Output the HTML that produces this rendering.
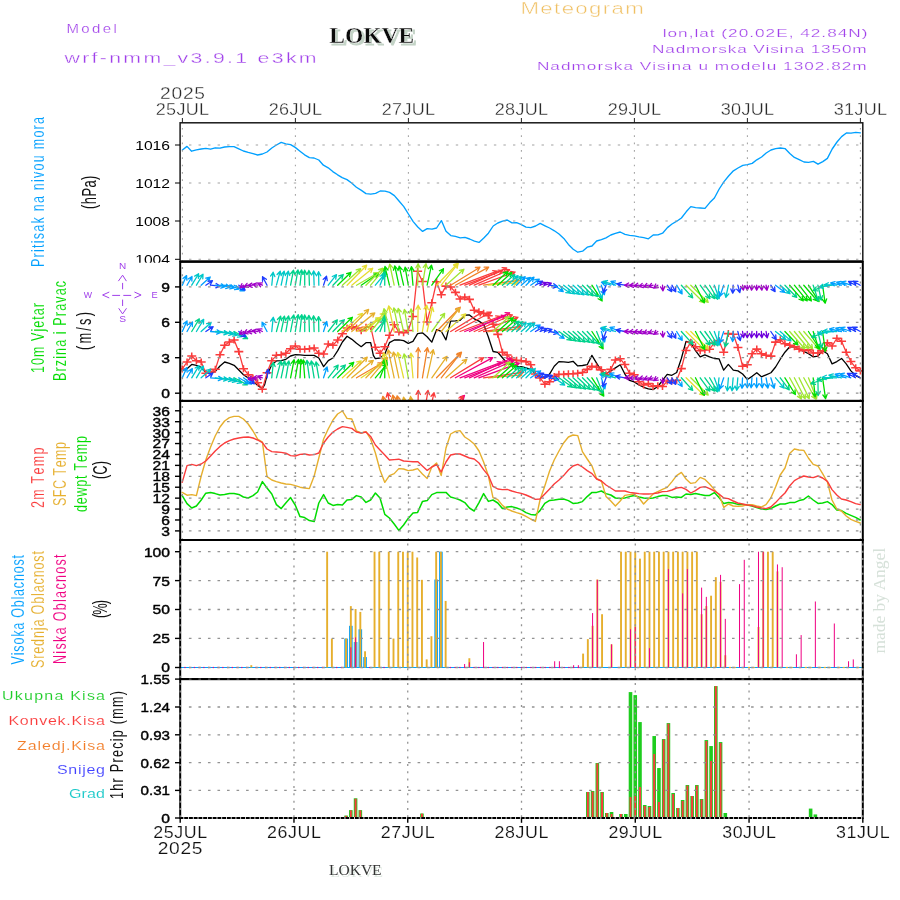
<!DOCTYPE html>
<html><head><meta charset="utf-8"><title>Meteogram LOKVE</title>
<style>html,body{margin:0;padding:0;background:#fff}svg{display:block;will-change:transform;filter:opacity(0.999)}text{white-space:pre}</style></head>
<body><svg width="900" height="900" viewBox="0 0 900 900">
<rect width="900" height="900" fill="#fff"/>
<text transform="translate(66.5,33.3) scale(1.25,1)" x="0 11.91 20.49 29.07 37.65" font-family="Liberation Sans" font-size="12" font-weight="normal" fill="#a040ea" stroke="#fff" stroke-width="0.2" >Model</text>
<text transform="translate(64.5,62.6) scale(1.42,1)" x="0 12.45 19.07 24.86 31.47 41.43 55.55 69.66 79.63 88.75 98.71 104.5 114.46 120.25 130.21 136 145.96 155.92 165.04" font-family="Liberation Sans" font-size="15" font-weight="normal" fill="#a040ea" stroke="#fff" stroke-width="0.3" >wrf-nmm_v3.9.1 e3km</text>
<text x="331.6" y="44.9" font-family="Liberation Serif" font-size="23" font-weight="bold" fill="#c3d3c6" stroke="#c3d3c6" stroke-width="0.8" textLength="85" lengthAdjust="spacingAndGlyphs">LOKVE</text>
<text x="329.2" y="42.5" font-family="Liberation Serif" font-size="23" font-weight="bold" fill="#0a0a0a" stroke="#fff" stroke-width="0.3" textLength="85" lengthAdjust="spacingAndGlyphs">LOKVE</text>
<text transform="translate(520.5,14.2) scale(1.32,1)" x="0 15.05 25.45 31.17 41.57 51.97 62.37 69.02 79.41" font-family="Liberation Sans" font-size="16.8" font-weight="normal" fill="#f0c063" stroke="#fff" stroke-width="0.42" >Meteogram</text>
<text transform="translate(662.7,37.2) scale(1.5,1)" x="0 3.21 10.26 17.31 21.16 24.37 31.42 35.27 39.12 43.61 50.66 57.71 61.56 68.61 75.66 83.99 87.84 91.69 98.74 105.79 109.64 116.69 123.74 132.7" font-family="Liberation Sans" font-size="11.5" font-weight="normal" fill="#a040ea" stroke="#fff" stroke-width="0.22" >lon,lat (20.02E, 42.84N)</text>
<text transform="translate(652,53.3) scale(1.5,1)" x="0 8.85 15.79 22.73 32.86 39.8 44.18 50.47 56.77 63.71 67.45 75.67 78.77 85.06 88.16 95.11 102.05 105.79 112.73 119.67 126.61 133.55" font-family="Liberation Sans" font-size="11.5" font-weight="normal" fill="#a040ea" stroke="#fff" stroke-width="0.22" >Nadmorska Visina 1350m</text>
<text transform="translate(536.9,69.5) scale(1.5,1)" x="0 8.96 16.02 23.07 33.31 40.36 44.85 51.26 57.66 64.72 68.57 76.9 80.11 86.52 89.73 96.78 103.84 107.69 114.74 118.6 128.83 135.89 142.94 149.99 153.21 160.26 164.11 171.17 178.22 185.27 192.33 196.18 203.23 210.29" font-family="Liberation Sans" font-size="11.5" font-weight="normal" fill="#a040ea" stroke="#fff" stroke-width="0.22" >Nadmorska Visina u modelu 1302.82m</text>
<text transform="translate(160,98.7) scale(1.2,1)" x="0 9.53 19.07 28.6" font-family="Liberation Sans" font-size="16" font-weight="normal" fill="#2a2a2a" stroke="#fff" stroke-width="0.3" >2025</text>
<text transform="translate(155.7,115) scale(1.1,1)" x="0 9.41 18.81 27.3 39.42" font-family="Liberation Sans" font-size="16.4" font-weight="normal" fill="#2a2a2a" stroke="#fff" stroke-width="0.3" >25JUL</text>
<line x1="182.4" y1="118" x2="182.4" y2="123" stroke="#222" stroke-width="1"/>
<text transform="translate(268.7,115) scale(1.1,1)" x="0 9.41 18.81 27.3 39.42" font-family="Liberation Sans" font-size="16.4" font-weight="normal" fill="#2a2a2a" stroke="#fff" stroke-width="0.3" >26JUL</text>
<line x1="295.4" y1="118" x2="295.4" y2="123" stroke="#222" stroke-width="1"/>
<text transform="translate(381.7,115) scale(1.1,1)" x="0 9.41 18.81 27.3 39.42" font-family="Liberation Sans" font-size="16.4" font-weight="normal" fill="#2a2a2a" stroke="#fff" stroke-width="0.3" >27JUL</text>
<line x1="408.4" y1="118" x2="408.4" y2="123" stroke="#222" stroke-width="1"/>
<text transform="translate(494.7,115) scale(1.1,1)" x="0 9.41 18.81 27.3 39.42" font-family="Liberation Sans" font-size="16.4" font-weight="normal" fill="#2a2a2a" stroke="#fff" stroke-width="0.3" >28JUL</text>
<line x1="521.4" y1="118" x2="521.4" y2="123" stroke="#222" stroke-width="1"/>
<text transform="translate(607.7,115) scale(1.1,1)" x="0 9.41 18.81 27.3 39.42" font-family="Liberation Sans" font-size="16.4" font-weight="normal" fill="#2a2a2a" stroke="#fff" stroke-width="0.3" >29JUL</text>
<line x1="634.4" y1="118" x2="634.4" y2="123" stroke="#222" stroke-width="1"/>
<text transform="translate(720.7,115) scale(1.1,1)" x="0 9.41 18.81 27.3 39.42" font-family="Liberation Sans" font-size="16.4" font-weight="normal" fill="#2a2a2a" stroke="#fff" stroke-width="0.3" >30JUL</text>
<line x1="747.4" y1="118" x2="747.4" y2="123" stroke="#222" stroke-width="1"/>
<text transform="translate(833.7,115) scale(1.1,1)" x="0 9.41 18.81 27.3 39.42" font-family="Liberation Sans" font-size="16.4" font-weight="normal" fill="#2a2a2a" stroke="#fff" stroke-width="0.3" >31JUL</text>
<line x1="860.4" y1="118" x2="860.4" y2="123" stroke="#222" stroke-width="1"/>
<text transform="translate(153.3,837.7) scale(1.1,1)" x="0 9.53 19.06 27.68 39.9" font-family="Liberation Sans" font-size="16.2" font-weight="normal" fill="#111" stroke="#fff" stroke-width="0.15" >25JUL</text>
<line x1="180.2" y1="818" x2="180.2" y2="822.8" stroke="#000" stroke-width="1.4"/>
<text transform="translate(267.07,837.7) scale(1.1,1)" x="0 9.53 19.06 27.68 39.9" font-family="Liberation Sans" font-size="16.2" font-weight="normal" fill="#111" stroke="#fff" stroke-width="0.15" >26JUL</text>
<line x1="293.97" y1="818" x2="293.97" y2="822.8" stroke="#000" stroke-width="1.4"/>
<text transform="translate(380.84,837.7) scale(1.1,1)" x="0 9.53 19.06 27.68 39.9" font-family="Liberation Sans" font-size="16.2" font-weight="normal" fill="#111" stroke="#fff" stroke-width="0.15" >27JUL</text>
<line x1="407.74" y1="818" x2="407.74" y2="822.8" stroke="#000" stroke-width="1.4"/>
<text transform="translate(494.61,837.7) scale(1.1,1)" x="0 9.53 19.06 27.68 39.9" font-family="Liberation Sans" font-size="16.2" font-weight="normal" fill="#111" stroke="#fff" stroke-width="0.15" >28JUL</text>
<line x1="521.51" y1="818" x2="521.51" y2="822.8" stroke="#000" stroke-width="1.4"/>
<text transform="translate(608.38,837.7) scale(1.1,1)" x="0 9.53 19.06 27.68 39.9" font-family="Liberation Sans" font-size="16.2" font-weight="normal" fill="#111" stroke="#fff" stroke-width="0.15" >29JUL</text>
<line x1="635.28" y1="818" x2="635.28" y2="822.8" stroke="#000" stroke-width="1.4"/>
<text transform="translate(722.15,837.7) scale(1.1,1)" x="0 9.53 19.06 27.68 39.9" font-family="Liberation Sans" font-size="16.2" font-weight="normal" fill="#111" stroke="#fff" stroke-width="0.15" >30JUL</text>
<line x1="749.05" y1="818" x2="749.05" y2="822.8" stroke="#000" stroke-width="1.4"/>
<text transform="translate(835.92,837.7) scale(1.1,1)" x="0 9.53 19.06 27.68 39.9" font-family="Liberation Sans" font-size="16.2" font-weight="normal" fill="#111" stroke="#fff" stroke-width="0.15" >31JUL</text>
<line x1="862.82" y1="818" x2="862.82" y2="822.8" stroke="#000" stroke-width="1.4"/>
<text transform="translate(157.7,853.7) scale(1.2,1)" x="0 9.45 18.9 28.35" font-family="Liberation Sans" font-size="16" font-weight="normal" fill="#111" stroke="#fff" stroke-width="0.15" >2025</text>
<text x="330.5" y="876.5" font-family="Liberation Serif" font-size="15.5" fill="#dfe8e1" textLength="52.6" lengthAdjust="spacingAndGlyphs">LOKVE</text>
<text x="329" y="875.3" font-family="Liberation Serif" font-size="15.5" fill="#333" textLength="52.6" lengthAdjust="spacingAndGlyphs">LOKVE</text>
<text transform="translate(884.8,653.6) rotate(-90)" font-family="Liberation Serif" font-size="16" fill="#d6e1d9" textLength="105.7" lengthAdjust="spacingAndGlyphs">made by Angel</text>
<text transform="translate(44.2,267) rotate(-90) scale(0.66,1)" x="0 14.54 22.74 28.84 35.99 42.08 53.45 65.89 77.26 84.41 96.85 109.29 116.44 128.88 134.97 146.34 158.78 171.22 178.37 196.07 208.51 216.71" font-family="Liberation Sans" font-size="19" fill="rgb(0,160,255)" stroke="#fff" stroke-width="0.12">Pritisak na nivou mora</text>
<text transform="translate(96,209) rotate(-90) scale(0.66,1)" x="0 7.22 18.8 32.54 44.11" font-family="Liberation Sans" font-size="19.5" fill="#111">(hPa)</text>
<text transform="translate(44.2,373) rotate(-90) scale(0.66,1)" x="0 12.14 24.29 41.69 48.55 62.79 68.59 80.74 87.59 99.73" font-family="Liberation Sans" font-size="19" fill="rgb(0,220,0)" stroke="#fff" stroke-width="0.12">10m Vjetar</text>
<text transform="translate(65.6,381) rotate(-90) scale(0.66,1)" x="0 14.37 22.39 33.59 39.51 51.77 64.03 71.01 76.93 83.9 98.27 106.29 118.56 129.75 142.02" font-family="Liberation Sans" font-size="19" fill="rgb(0,220,0)" stroke="#fff" stroke-width="0.12">Brzina i Pravac</text>
<text transform="translate(91,350) rotate(-90) scale(0.66,1)" x="0 9.79 29.33 38.04 51.08" font-family="Liberation Sans" font-size="19.5" fill="#111">(m/s)</text>
<text transform="translate(44.4,508) rotate(-90) scale(0.66,1)" x="0 12.45 30.15 37.31 50.8 63.24 80.95" font-family="Liberation Sans" font-size="19" fill="rgb(250,60,60)" stroke="#fff" stroke-width="0.12">2m Temp</text>
<text transform="translate(65.6,506) rotate(-90) scale(0.66,1)" x="0 13.4 25.74 40.2 46.21 58.54 69.84 86.4" font-family="Liberation Sans" font-size="19" fill="rgb(230,175,45)" stroke="#fff" stroke-width="0.12">SFC Temp</text>
<text transform="translate(86.6,512) rotate(-90) scale(0.66,1)" x="0 11.75 23.49 38.39 50.14 56.59 63.05 75.83 87.58 104.58" font-family="Liberation Sans" font-size="19" fill="rgb(0,220,0)" stroke="#fff" stroke-width="0.12">dewpt Temp</text>
<text transform="translate(107,479) rotate(-90) scale(0.66,1)" x="0 6.6 20.78" font-family="Liberation Sans" font-size="19.5" fill="#111">(C)</text>
<text transform="translate(23.6,664.4) rotate(-90) scale(0.66,1)" x="0 13.87 19.28 29.98 41.74 52.43 64.19 70.66 86.63 98.4 103.81 115.57 126.26 138.02 149.79 160.48" font-family="Liberation Sans" font-size="19" fill="rgb(0,160,255)" stroke="#fff" stroke-width="0.12">Visoka Oblacnost</text>
<text transform="translate(44.4,668) rotate(-90) scale(0.66,1)" x="0 13.98 21.62 33.5 45.37 57.25 62.78 74.66 81.25 97.34 109.21 114.74 126.62 137.43 149.31 161.18 171.99" font-family="Liberation Sans" font-size="19" fill="rgb(230,175,45)" stroke="#fff" stroke-width="0.12">Srednja Oblacnost</text>
<text transform="translate(65.6,664) rotate(-90) scale(0.66,1)" x="0 15.7 21.9 33.38 44.86 57.41 64.67 81.43 93.98 100.18 112.73 124.21 136.75 149.3 160.78" font-family="Liberation Sans" font-size="19" fill="rgb(240,0,130)" stroke="#fff" stroke-width="0.12">Niska Oblacnost</text>
<text transform="translate(107,618) rotate(-90) scale(0.66,1)" x="0 4.97 20.78" font-family="Liberation Sans" font-size="19.5" fill="#111">(%)</text>
<text transform="translate(123.4,799) rotate(-90) scale(0.66,1)" x="0 12.53 25.06 33.34 40.58 55.22 63.51 76.03 87.49 93.68 106.2 113.44 121.73 139.52 157.31" font-family="Liberation Sans" font-size="19" fill="#111">1hr Precip (mm)</text>
<text transform="translate(2,700.4) scale(1.2,1)" x="0 10.65 18.34 26.78 35.22 43.66 52.1 56.83 66.75 70.74 78.44" font-family="Liberation Sans" font-size="13.3" font-weight="normal" fill="rgb(30,205,40)" stroke="#fff" stroke-width="0.1" >Ukupna Kisa</text>
<text transform="translate(8.4,725) scale(1.2,1)" x="0 9.53 17.58 25.64 32.94 41 48.3 52.66 62.18 65.8 73.1" font-family="Liberation Sans" font-size="13.3" font-weight="normal" fill="rgb(250,60,60)" stroke="#fff" stroke-width="0.1" >Konvek.Kisa</text>
<text transform="translate(17,749.6) scale(1.2,1)" x="0 8.88 17.03 20.74 28.89 37.04 40.75 45.2 54.82 58.53 65.94" font-family="Liberation Sans" font-size="13.3" font-weight="normal" fill="rgb(242,125,40)" stroke="#fff" stroke-width="0.1" >Zaledj.Kisa</text>
<text transform="translate(57,774) scale(1.2,1)" x="0 9.48 17.48 21.04 24.6 32.6" font-family="Liberation Sans" font-size="13.3" font-weight="normal" fill="rgb(65,65,255)" stroke="#fff" stroke-width="0.1" >Snijeg</text>
<text transform="translate(69,798) scale(1.2,1)" x="0 10.49 15.06 22.6" font-family="Liberation Sans" font-size="13.3" font-weight="normal" fill="rgb(20,200,200)" stroke="#fff" stroke-width="0.1" >Grad</text>
<g stroke="#a040ea" stroke-width="1" fill="none" stroke-linecap="round">
<path d="M118.6 280.8 L122.6 275.2 L126.2 280.8 M122.6 283.3 V288.9 M122.6 300 V305.6 M118.9 308.6 L122.6 313.9 L126.3 308.6"/>
<path d="M108.9 292.2 L102.6 295 L108.9 297.8 M112.6 295.4 H119.7 M123.7 295.4 H130.8 M134.8 292.2 L141.1 295 L134.8 297.8"/>
</g>
<text x="118.9" y="269.4" font-family="Liberation Sans" font-size="9.3" fill="#a040ea" textLength="7.2" lengthAdjust="spacingAndGlyphs">N</text>
<text x="119.3" y="322.4" font-family="Liberation Sans" font-size="9.3" fill="#a040ea" textLength="6.8" lengthAdjust="spacingAndGlyphs">S</text>
<text x="83.85" y="297.8" font-family="Liberation Sans" font-size="9.3" fill="#a040ea" textLength="8.3" lengthAdjust="spacingAndGlyphs">W</text>
<text x="151.6" y="297.8" font-family="Liberation Sans" font-size="9.3" fill="#a040ea" textLength="6.2" lengthAdjust="spacingAndGlyphs">E</text>
<polyline fill="none" stroke="rgb(0,160,255)" stroke-width="1.35" stroke-linejoin="round" stroke-linecap="round" points="182.4,150 187,146.4 191.6,151.2 196.4,149.8 201.2,149 205.8,148.4 210.6,149.2 215.2,147.8 220,148.2 224.6,147 229.4,146.6 234,146.6 238.8,148.8 243.4,151 248.2,152.4 253,153.6 257.6,155 262.4,154 267,152 271.8,148 276.4,145 281.2,142.4 285.8,143.8 290.6,144.6 295.2,147.4 300,151.2 304.6,154.8 309.4,157.6 314,158 318.8,160 323.4,165.2 328.2,167.8 332.8,171.6 337.6,174.8 342.2,177.6 347,179.6 351.6,183 356.4,187.2 361.4,190.4 366,193.6 370.8,194.2 375.6,193.4 380.2,191 385,191.2 389.6,192.4 394.4,195.6 399,201 403.8,206.6 408.4,214 413.2,221.6 417.8,227 422.6,231.4 427.2,228.6 432,229.2 436.6,228 441.4,220.6 446,231.2 450.8,235.6 455.4,236.4 460.2,237.8 465,237.4 469.6,239 474.4,241.2 479,242.4 483.8,238 488.4,233.2 493.2,226 497.8,223 502.6,221.2 507.2,220 512,222.8 516.6,222.6 521.4,224.6 526,227.2 530.8,227.6 535.6,226 540.2,223.4 545,225.8 549.6,228 554.4,230.8 559,234 563.8,238.4 568.4,244.4 573.2,249.2 577.8,252.2 582.6,251.2 587.2,247.2 592,246 596.6,241 601.4,239.6 606,237.8 610.8,235 615.4,233.4 620.2,232 625,234.4 629.6,235.4 634.4,235.8 639,236.8 643.8,237.6 648.4,238.8 653.2,235 658,234.8 662.6,233.2 667.4,227.6 672,224 676.8,221.2 681.4,218 686.2,211.8 690.8,206.6 695.6,207.6 700.4,208 705,208.4 709.8,202.6 714.4,198 719.2,189 724,181.6 728.6,176 733.4,170.8 738,168 742.8,165.4 747.4,164.6 752.2,163.4 756.8,159.8 761.6,157 766.2,153 771,150 775.6,148.6 780.4,148 785,148.6 789.8,153.4 794.4,157.4 799.2,159.6 804,162 808.6,162.4 813.4,161.4 818,164.2 822.8,161.6 827.4,158.4 832.2,149 837,142 841.6,136.6 846.4,133 851,133.2 855.8,132.4 860.4,132.8" />
<line x1="189" y1="145" x2="861.8" y2="145" stroke="#a2a2a2" stroke-width="1.05" stroke-dasharray="2.4 7.128"/>
<line x1="189" y1="183" x2="861.8" y2="183" stroke="#a2a2a2" stroke-width="1.05" stroke-dasharray="2.4 7.128"/>
<line x1="189" y1="221" x2="861.8" y2="221" stroke="#a2a2a2" stroke-width="1.05" stroke-dasharray="2.4 7.128"/>
<line x1="189" y1="259.3" x2="861.8" y2="259.3" stroke="#a2a2a2" stroke-width="1.05" stroke-dasharray="2.4 7.128"/>
<line x1="182.4" y1="127.9" x2="182.4" y2="261" stroke="#a2a2a2" stroke-width="1.05" stroke-dasharray="1.7 5.65"/>
<line x1="295.4" y1="127.9" x2="295.4" y2="261" stroke="#a2a2a2" stroke-width="1.05" stroke-dasharray="1.7 5.65"/>
<line x1="408.4" y1="127.9" x2="408.4" y2="261" stroke="#a2a2a2" stroke-width="1.05" stroke-dasharray="1.7 5.65"/>
<line x1="521.4" y1="127.9" x2="521.4" y2="261" stroke="#a2a2a2" stroke-width="1.05" stroke-dasharray="1.7 5.65"/>
<line x1="634.4" y1="127.9" x2="634.4" y2="261" stroke="#a2a2a2" stroke-width="1.05" stroke-dasharray="1.7 5.65"/>
<line x1="747.4" y1="127.9" x2="747.4" y2="261" stroke="#a2a2a2" stroke-width="1.05" stroke-dasharray="1.7 5.65"/>
<line x1="860.4" y1="127.9" x2="860.4" y2="261" stroke="#a2a2a2" stroke-width="1.05" stroke-dasharray="1.7 5.65"/>
<clipPath id="c2"><rect x="180.2" y="262.9" width="682.6" height="137"/></clipPath>
<g clip-path="url(#c2)">
<polyline fill="none" stroke="#000" stroke-width="1.3" stroke-linejoin="round" stroke-linecap="round" points="182.27,370.67 187.07,368.67 191.73,364.4 196.4,365.33 201.2,367.33 205.87,372.67 210.53,373.33 215.33,371.33 220,366 224.67,362 229.33,363.33 234.13,365.33 238.8,370 243.47,374.67 248.27,378 252.93,381.33 257.6,385.33 262.27,388.67 264.67,384.67 267.07,375.33 271.73,364.67 276.4,360.93 281.2,360.67 285.87,359.33 290.53,356 295.33,354.67 300,354.93 304.67,355.33 309.47,355.33 314.13,355.33 318.8,358 323.6,366.67 328.27,360.67 332.93,358 337.73,350.67 342.4,342 347.07,336.27 351.87,339.33 356.53,343.33 361.2,346.67 366,342.67 370.67,342.67 373.33,355.33 375.33,358.67 380.13,358 384.8,354 389.47,342.67 394.27,340 398.93,339.82 403.6,340.6 408.27,343.4 412.94,341.38 417.61,333.6 422.44,332.82 427.11,336.71 431.77,342.16 436.6,329.7 441.27,331.26 445.94,339.82 450.61,321.14 455.43,320.83 460.1,320.37 464.77,315.23 469.44,314.92 474.26,318.81 478.93,321.14 483.6,324.26 488.27,336.71 493.1,351.49 497.77,352.27 502.44,357.72 507.11,363.17 511.89,365.5 516.56,366.59 521.23,366.59 526.05,367.84 530.72,369.39 535.39,374.06 540.06,377.18 544.89,377.95 549.56,374.06 554.23,366.28 558.89,361.61 563.72,361.92 568.39,362.39 573.06,361.3 577.73,365.97 582.55,365.5 587.22,364.72 591.89,355.39 596.56,363.17 601.39,370.95 606.05,374.06 610.72,370.95 615.39,367.84 620.18,364.72 624.85,374.06 629.52,380.29 634.19,381.84 639.01,384.96 643.68,387.29 648.35,388.85 653.02,389.63 657.84,386.51 662.51,380.29 667.18,374.37 671.85,375.31 676.68,372.51 681.35,358.5 686.02,341.38 690.68,342.93 695.51,350.72 700.18,356.94 704.85,354.92 709.52,356.94 714.34,358.5 719.01,358.81 723.68,370.17 728.35,364.41 733.29,370.11 737.96,370.89 742.62,374 747.29,379.44 752.11,376.33 756.78,372.76 761.44,376.8 766.11,374.78 770.93,372.76 775.6,367 780.27,359.22 784.93,352.22 789.76,346.78 794.42,346.78 799.09,349.11 803.76,351.44 808.58,353.78 813.24,356.89 817.91,356.11 822.73,350.67 827.4,353.78 832.07,363.89 836.89,361.56 841.56,358.44 846.22,363.89 850.89,370.89 855.71,375.56 860.38,377.89" />
<polyline fill="none" stroke="rgb(250,60,60)" stroke-width="1.3" stroke-linejoin="round" stroke-linecap="round" points="182.27,368.93 187.07,362 191.73,356 196.4,360.67 201.2,362 205.87,373.33 210.53,372 215.33,369.33 220,354.67 224.67,345.33 229.33,342 234.13,340 238.8,351.6 243.47,368.67 248.27,374.67 252.93,378 257.6,382.67 262.27,389.33 267.07,372.67 271.73,360.67 276.4,355.33 281.2,354.67 285.87,353.33 290.53,348.67 295.33,346 300,349.33 304.67,349.33 309.47,348.67 314.13,348 318.8,353.33 323.6,354 328.27,344 332.93,345.33 337.73,340 342.4,333.73 347.07,328 351.87,326.67 356.53,328 361.2,330.67 366,327.33 370.67,326.67 375.33,347.33 380.13,353.33 384.8,346.67 389.47,335.33 394.27,324.67 398.93,332.04 403.6,332.82 408.27,330.48 412.94,316.47 417.61,271.34 422.44,281.46 427.11,321.92 431.77,302.78 436.6,281.77 441.27,294.68 445.94,286.12 450.61,286.9 455.43,292.35 460.1,299.04 464.77,297.02 469.44,299.35 474.26,310.25 478.93,311.81 483.6,313.36 488.27,315.7 493.1,324.26 497.77,334.37 502.44,352.27 507.11,355.07 511.89,359.28 516.56,360.37 521.23,360.83 526.05,361.61 530.72,364.72 535.39,374.06 540.06,377.95 544.89,384.18 549.56,381.84 554.23,376.4 558.89,374.37 563.72,374.37 568.39,373.75 573.06,373.75 577.73,373.28 582.55,372.51 587.22,369.39 591.89,366.28 596.56,367.06 601.39,369.86 606.05,374.84 610.72,369.39 615.39,360.05 620.18,358.81 624.85,364.41 629.52,373.28 634.19,374.84 639.01,381.84 643.68,384.96 648.35,383.4 653.02,386.51 657.84,385.74 662.51,386.51 667.18,381.07 671.85,381.07 676.68,380.29 681.35,368.61 686.02,350.4 690.68,342.16 695.51,346.82 700.18,350.72 704.85,349.94 709.52,349.16 714.34,342.93 719.01,340.6 723.68,352.27 728.35,333.6 733.29,334.33 737.96,347.56 742.62,366.22 747.29,364.67 752.11,353.78 756.78,349.11 761.44,353.78 766.11,355.33 770.93,356.11 775.6,342.11 780.27,339.78 784.93,343.67 789.76,345.22 794.42,346.78 799.09,349.11 803.76,350.67 808.58,349.89 813.24,353 817.91,353 822.73,350.67 827.4,342.89 832.07,346 836.89,338.22 841.56,341.33 846.22,352.22 850.89,361.56 855.71,367.78 860.38,370.89" />
<path d="M177.77 368.93 h9 M182.27 365.43 v7 M182.57 362 h9 M187.07 358.5 v7 M187.23 356 h9 M191.73 352.5 v7 M191.9 360.67 h9 M196.4 357.17 v7 M196.7 362 h9 M201.2 358.5 v7 M201.37 373.33 h9 M205.87 369.83 v7 M206.03 372 h9 M210.53 368.5 v7 M210.83 369.33 h9 M215.33 365.83 v7 M215.5 354.67 h9 M220 351.17 v7 M220.17 345.33 h9 M224.67 341.83 v7 M224.83 342 h9 M229.33 338.5 v7 M229.63 340 h9 M234.13 336.5 v7 M234.3 351.6 h9 M238.8 348.1 v7 M238.97 368.67 h9 M243.47 365.17 v7 M243.77 374.67 h9 M248.27 371.17 v7 M248.43 378 h9 M252.93 374.5 v7 M253.1 382.67 h9 M257.6 379.17 v7 M257.77 389.33 h9 M262.27 385.83 v7 M262.57 372.67 h9 M267.07 369.17 v7 M267.23 360.67 h9 M271.73 357.17 v7 M271.9 355.33 h9 M276.4 351.83 v7 M276.7 354.67 h9 M281.2 351.17 v7 M281.37 353.33 h9 M285.87 349.83 v7 M286.03 348.67 h9 M290.53 345.17 v7 M290.83 346 h9 M295.33 342.5 v7 M295.5 349.33 h9 M300 345.83 v7 M300.17 349.33 h9 M304.67 345.83 v7 M304.97 348.67 h9 M309.47 345.17 v7 M309.63 348 h9 M314.13 344.5 v7 M314.3 353.33 h9 M318.8 349.83 v7 M319.1 354 h9 M323.6 350.5 v7 M323.77 344 h9 M328.27 340.5 v7 M328.43 345.33 h9 M332.93 341.83 v7 M333.23 340 h9 M337.73 336.5 v7 M337.9 333.73 h9 M342.4 330.23 v7 M342.57 328 h9 M347.07 324.5 v7 M347.37 326.67 h9 M351.87 323.17 v7 M352.03 328 h9 M356.53 324.5 v7 M356.7 330.67 h9 M361.2 327.17 v7 M361.5 327.33 h9 M366 323.83 v7 M366.17 326.67 h9 M370.67 323.17 v7 M370.83 347.33 h9 M375.33 343.83 v7 M375.63 353.33 h9 M380.13 349.83 v7 M380.3 346.67 h9 M384.8 343.17 v7 M384.97 335.33 h9 M389.47 331.83 v7 M389.77 324.67 h9 M394.27 321.17 v7 M394.43 332.04 h9 M398.93 328.54 v7 M399.1 332.82 h9 M403.6 329.32 v7 M403.77 330.48 h9 M408.27 326.98 v7 M408.44 316.47 h9 M412.94 312.97 v7 M413.11 271.34 h9 M417.61 267.84 v7 M417.94 281.46 h9 M422.44 277.96 v7 M422.61 321.92 h9 M427.11 318.42 v7 M427.27 302.78 h9 M431.77 299.28 v7 M432.1 281.77 h9 M436.6 278.27 v7 M436.77 294.68 h9 M441.27 291.18 v7 M441.44 286.12 h9 M445.94 282.62 v7 M446.11 286.9 h9 M450.61 283.4 v7 M450.93 292.35 h9 M455.43 288.85 v7 M455.6 299.04 h9 M460.1 295.54 v7 M460.27 297.02 h9 M464.77 293.52 v7 M464.94 299.35 h9 M469.44 295.85 v7 M469.76 310.25 h9 M474.26 306.75 v7 M474.43 311.81 h9 M478.93 308.31 v7 M479.1 313.36 h9 M483.6 309.86 v7 M483.77 315.7 h9 M488.27 312.2 v7 M488.6 324.26 h9 M493.1 320.76 v7 M493.27 334.37 h9 M497.77 330.87 v7 M497.94 352.27 h9 M502.44 348.77 v7 M502.61 355.07 h9 M507.11 351.57 v7 M507.39 359.28 h9 M511.89 355.78 v7 M512.06 360.37 h9 M516.56 356.87 v7 M516.73 360.83 h9 M521.23 357.33 v7 M521.55 361.61 h9 M526.05 358.11 v7 M526.22 364.72 h9 M530.72 361.22 v7 M530.89 374.06 h9 M535.39 370.56 v7 M535.56 377.95 h9 M540.06 374.45 v7 M540.39 384.18 h9 M544.89 380.68 v7 M545.06 381.84 h9 M549.56 378.34 v7 M549.73 376.4 h9 M554.23 372.9 v7 M554.39 374.37 h9 M558.89 370.87 v7 M559.22 374.37 h9 M563.72 370.87 v7 M563.89 373.75 h9 M568.39 370.25 v7 M568.56 373.75 h9 M573.06 370.25 v7 M573.23 373.28 h9 M577.73 369.78 v7 M578.05 372.51 h9 M582.55 369.01 v7 M582.72 369.39 h9 M587.22 365.89 v7 M587.39 366.28 h9 M591.89 362.78 v7 M592.06 367.06 h9 M596.56 363.56 v7 M596.89 369.86 h9 M601.39 366.36 v7 M601.55 374.84 h9 M606.05 371.34 v7 M606.22 369.39 h9 M610.72 365.89 v7 M610.89 360.05 h9 M615.39 356.55 v7 M615.68 358.81 h9 M620.18 355.31 v7 M620.35 364.41 h9 M624.85 360.91 v7 M625.02 373.28 h9 M629.52 369.78 v7 M629.69 374.84 h9 M634.19 371.34 v7 M634.51 381.84 h9 M639.01 378.34 v7 M639.18 384.96 h9 M643.68 381.46 v7 M643.85 383.4 h9 M648.35 379.9 v7 M648.52 386.51 h9 M653.02 383.01 v7 M653.34 385.74 h9 M657.84 382.24 v7 M658.01 386.51 h9 M662.51 383.01 v7 M662.68 381.07 h9 M667.18 377.57 v7 M667.35 381.07 h9 M671.85 377.57 v7 M672.18 380.29 h9 M676.68 376.79 v7 M676.85 368.61 h9 M681.35 365.11 v7 M681.52 350.4 h9 M686.02 346.9 v7 M686.18 342.16 h9 M690.68 338.66 v7 M691.01 346.82 h9 M695.51 343.32 v7 M695.68 350.72 h9 M700.18 347.22 v7 M700.35 349.94 h9 M704.85 346.44 v7 M705.02 349.16 h9 M709.52 345.66 v7 M709.84 342.93 h9 M714.34 339.43 v7 M714.51 340.6 h9 M719.01 337.1 v7 M719.18 352.27 h9 M723.68 348.77 v7 M723.85 333.6 h9 M728.35 330.1 v7 M728.79 334.33 h9 M733.29 330.83 v7 M733.46 347.56 h9 M737.96 344.06 v7 M738.12 366.22 h9 M742.62 362.72 v7 M742.79 364.67 h9 M747.29 361.17 v7 M747.61 353.78 h9 M752.11 350.28 v7 M752.28 349.11 h9 M756.78 345.61 v7 M756.94 353.78 h9 M761.44 350.28 v7 M761.61 355.33 h9 M766.11 351.83 v7 M766.43 356.11 h9 M770.93 352.61 v7 M771.1 342.11 h9 M775.6 338.61 v7 M775.77 339.78 h9 M780.27 336.28 v7 M780.43 343.67 h9 M784.93 340.17 v7 M785.26 345.22 h9 M789.76 341.72 v7 M789.92 346.78 h9 M794.42 343.28 v7 M794.59 349.11 h9 M799.09 345.61 v7 M799.26 350.67 h9 M803.76 347.17 v7 M804.08 349.89 h9 M808.58 346.39 v7 M808.74 353 h9 M813.24 349.5 v7 M813.41 353 h9 M817.91 349.5 v7 M818.23 350.67 h9 M822.73 347.17 v7 M822.9 342.89 h9 M827.4 339.39 v7 M827.57 346 h9 M832.07 342.5 v7 M832.39 338.22 h9 M836.89 334.72 v7 M837.06 341.33 h9 M841.56 337.83 v7 M841.72 352.22 h9 M846.22 348.72 v7 M846.39 361.56 h9 M850.89 358.06 v7 M851.21 367.78 h9 M855.71 364.28 v7 M855.88 370.89 h9 M860.38 367.39 v7" stroke="rgb(250,60,60)" stroke-width="1.55" fill="none"/>
<g fill="none" stroke-width="1.3" stroke-linecap="round" stroke-linejoin="round">
<path stroke="rgb(0,160,255)" d="M182.3 285.2 L186.57 275.61 M182.95 278.44 L186.57 275.61 L186.89 280.2"/>
<path stroke="rgb(0,160,255)" d="M187.01 285.2 L192.01 276.54 M188.11 278.98 L192.01 276.54 L191.85 281.14"/>
<path stroke="rgb(0,200,200)" d="M191.72 285.2 L198.62 273.71 M194.67 276.08 L198.62 273.71 L198.38 278.31"/>
<path stroke="rgb(0,200,200)" d="M196.42 285.2 L203.02 274.23 M199.07 276.6 L203.02 274.23 L202.78 278.82"/>
<path stroke="rgb(0,160,255)" d="M201.13 285.2 L210.2 277.04 M205.74 278.15 L210.2 277.04 L208.63 281.36"/>
<path stroke="rgb(30,60,255)" d="M205.84 285.2 L212.47 280.73 M207.9 281.21 L212.47 280.73 L210.31 284.79"/>
<path stroke="rgb(30,60,255)" d="M210.55 285.2 L220.01 286.03 M216.15 283.52 L220.01 286.03 L215.78 287.83"/>
<path stroke="rgb(0,160,255)" d="M215.26 285.2 L225.16 286.59 M221.44 283.89 L225.16 286.59 L220.84 288.17"/>
<path stroke="rgb(0,160,255)" d="M219.96 285.2 L230.07 287.17 M226.5 284.27 L230.07 287.17 L225.68 288.51"/>
<path stroke="rgb(0,160,255)" d="M224.67 285.2 L234.28 287.96 M230.98 284.76 L234.28 287.96 L229.79 288.91"/>
<path stroke="rgb(0,160,255)" d="M229.38 285.2 L239.12 289.13 M236.16 285.61 L239.12 289.13 L234.54 289.61"/>
<path stroke="rgb(0,160,255)" d="M234.09 285.2 L244.51 290.74 M241.93 286.93 L244.51 290.74 L239.91 290.74"/>
<path stroke="rgb(30,60,255)" d="M238.8 285.2 L245.1 290.13 M243.23 285.92 L245.1 290.13 L240.57 289.33"/>
<path stroke="rgb(160,0,200)" d="M243.5 285.2 L239.82 287.78 M244.38 287.22 L239.82 287.78 L241.91 283.68"/>
<path stroke="rgb(160,0,200)" d="M248.21 285.2 L243.98 286.74 M248.54 287.38 L243.98 286.74 L247.06 283.32"/>
<path stroke="rgb(160,0,200)" d="M252.92 285.2 L247.94 285.64 M252.17 287.43 L247.94 285.64 L251.8 283.13"/>
<path stroke="rgb(160,0,200)" d="M257.63 285.2 L252.7 284.33 M256.33 287.16 L252.7 284.33 L257.08 282.91"/>
<path stroke="rgb(160,0,200)" d="M262.34 285.2 L257.8 283.09 M260.57 286.76 L257.8 283.09 L262.4 282.85"/>
<path stroke="rgb(30,60,255)" d="M267.04 285.2 L262.54 276.72 M262.54 281.32 L262.54 276.72 L266.35 279.3"/>
<path stroke="rgb(0,200,200)" d="M271.75 285.2 L273.11 272.27 M270.54 276.08 L273.11 272.27 L274.83 276.54"/>
<path stroke="rgb(0,200,200)" d="M276.46 285.2 L280.21 271.19 M277.08 274.56 L280.21 271.19 L281.25 275.68"/>
<path stroke="rgb(0,200,200)" d="M281.17 285.2 L284.14 271.21 M281.18 274.74 L284.14 271.21 L285.41 275.63"/>
<path stroke="rgb(0,200,200)" d="M285.88 285.2 L288.36 271.12 M285.53 274.74 L288.36 271.12 L289.78 275.49"/>
<path stroke="rgb(0,210,140)" d="M290.58 285.2 L293.5 270.18 M290.61 273.76 L293.5 270.18 L294.85 274.58"/>
<path stroke="rgb(0,210,140)" d="M295.29 285.2 L297.98 269.94 M295.15 273.56 L297.98 269.94 L299.41 274.31"/>
<path stroke="rgb(0,210,140)" d="M300 285.2 L301.61 269.88 M299.04 273.7 L301.61 269.88 L303.33 274.15"/>
<path stroke="rgb(0,210,140)" d="M304.71 285.2 L304.71 270.2 M302.55 274.26 L304.71 270.2 L306.87 274.26"/>
<path stroke="rgb(0,210,140)" d="M309.42 285.2 L308.9 270.51 M306.89 274.64 L308.9 270.51 L311.2 274.49"/>
<path stroke="rgb(0,200,200)" d="M314.12 285.2 L313.62 270.91 M311.61 275.04 L313.62 270.91 L315.92 274.89"/>
<path stroke="rgb(0,200,200)" d="M318.83 285.2 L318.6 271.7 M316.51 275.8 L318.6 271.7 L320.83 275.73"/>
<path stroke="rgb(30,60,255)" d="M323.54 285.2 L326.48 276.16 M323.17 279.36 L326.48 276.16 L327.27 280.7"/>
<path stroke="rgb(0,200,200)" d="M328.25 285.2 L336.5 274.64 M332.3 276.51 L336.5 274.64 L335.7 279.17"/>
<path stroke="rgb(0,210,140)" d="M332.96 285.2 L343.24 274.55 M338.86 275.98 L343.24 274.55 L341.97 278.98"/>
<path stroke="rgb(0,220,0)" d="M337.66 285.2 L351.04 272.28 M346.62 273.55 L351.04 272.28 L349.62 276.65"/>
<path stroke="rgb(160,230,50)" d="M342.37 285.2 L360.65 268.74 M356.19 269.85 L360.65 268.74 L359.08 273.06"/>
<path stroke="rgb(230,220,50)" d="M347.08 285.2 L366.67 265.19 M362.29 266.59 L366.67 265.19 L365.37 269.61"/>
<path stroke="rgb(230,220,50)" d="M351.79 285.2 L372.69 268.27 M368.18 269.15 L372.69 268.27 L370.9 272.51"/>
<path stroke="rgb(160,230,50)" d="M356.5 285.2 L378.15 272.7 M373.55 272.86 L378.15 272.7 L375.71 276.6"/>
<path stroke="rgb(0,220,0)" d="M361.2 285.2 L378.45 273.57 M373.87 274.05 L378.45 273.57 L376.29 277.63"/>
<path stroke="rgb(160,230,50)" d="M365.91 285.2 L382.88 268.23 M378.48 269.57 L382.88 268.23 L381.54 272.63"/>
<path stroke="rgb(160,230,50)" d="M370.62 285.2 L384.76 268.35 M380.5 270.07 L384.76 268.35 L383.8 272.85"/>
<path stroke="rgb(0,200,200)" d="M375.33 285.2 L384.33 274.48 M380.06 276.2 L384.33 274.48 L383.37 278.97"/>
<path stroke="rgb(0,200,200)" d="M380.04 285.2 L385.12 271.94 M381.65 274.96 L385.12 271.94 L385.69 276.51"/>
<path stroke="rgb(0,210,140)" d="M384.74 285.2 L384.74 270.5 M382.58 274.56 L384.74 270.5 L386.9 274.56"/>
<path stroke="rgb(0,220,0)" d="M389.45 285.2 L384.97 266.53 M383.82 270.98 L384.97 266.53 L388.02 269.98"/>
<path stroke="rgb(160,230,50)" d="M394.16 285.2 L389.69 264.17 M388.42 268.59 L389.69 264.17 L392.65 267.69"/>
<path stroke="rgb(0,220,0)" d="M398.87 285.2 L394.75 265.83 M393.48 270.25 L394.75 265.83 L397.71 269.36"/>
<path stroke="rgb(0,220,0)" d="M403.58 285.2 L399.19 266.2 M398 270.64 L399.19 266.2 L402.21 269.67"/>
<path stroke="rgb(0,220,0)" d="M408.28 285.2 L405.11 267.18 M403.68 271.55 L405.11 267.18 L407.94 270.8"/>
<path stroke="rgb(0,220,0)" d="M412.99 285.2 L411.37 266.67 M409.57 270.91 L411.37 266.67 L413.88 270.53"/>
<path stroke="rgb(160,230,50)" d="M417.7 285.2 L418.08 263.7 M415.85 267.73 L418.08 263.7 L420.16 267.8"/>
<path stroke="rgb(160,230,50)" d="M422.41 285.2 L426.01 263.7 M423.21 267.35 L426.01 263.7 L427.47 268.06"/>
<path stroke="rgb(0,220,0)" d="M427.12 285.2 L431.52 265.18 M428.54 268.68 L431.52 265.18 L432.76 269.61"/>
<path stroke="rgb(0,220,0)" d="M431.82 285.2 L443.5 268.71 M439.39 270.78 L443.5 268.71 L442.91 273.28"/>
<path stroke="rgb(230,220,50)" d="M436.53 285.2 L458.04 263.16 M453.66 264.56 L458.04 263.16 L456.75 267.57"/>
<path stroke="rgb(230,220,50)" d="M441.24 285.2 L458.05 263.69 M453.85 265.56 L458.05 263.69 L457.25 268.22"/>
<path stroke="rgb(160,230,50)" d="M445.95 285.2 L463.9 269.27 M459.42 270.35 L463.9 269.27 L462.29 273.58"/>
<path stroke="rgb(240,130,40)" d="M450.66 285.2 L479.99 267.23 M475.4 267.51 L479.99 267.23 L477.65 271.19"/>
<path stroke="rgb(240,130,40)" d="M455.36 285.2 L488.7 267.17 M484.1 267.21 L488.7 267.17 L486.16 271.01"/>
<path stroke="rgb(250,60,60)" d="M460.07 285.2 L497.23 271.23 M492.67 270.64 L497.23 271.23 L494.19 274.68"/>
<path stroke="rgb(250,60,60)" d="M464.78 285.2 L502.68 270.65 M498.12 270.09 L502.68 270.65 L499.67 274.12"/>
<path stroke="rgb(250,60,60)" d="M469.49 285.2 L506.65 267.87 M502.05 267.63 L506.65 267.87 L503.88 271.55"/>
<path stroke="rgb(250,60,60)" d="M474.2 285.2 L509.57 269.75 M504.98 269.39 L509.57 269.75 L506.71 273.35"/>
<path stroke="rgb(250,60,60)" d="M478.9 285.2 L515.08 272.03 M510.53 271.39 L515.08 272.03 L512 275.45"/>
<path stroke="rgb(240,130,40)" d="M483.61 285.2 L519.26 280.19 M514.94 278.62 L519.26 280.19 L515.54 282.89"/>
<path stroke="rgb(230,220,50)" d="M488.32 285.2 L518.21 282.59 M513.97 280.79 L518.21 282.59 L514.35 285.09"/>
<path stroke="rgb(0,220,0)" d="M493.03 285.2 L507.66 271.56 M503.21 272.75 L507.66 271.56 L506.16 275.91"/>
<path stroke="rgb(0,220,0)" d="M497.74 285.2 L511.86 272.49 M507.39 273.6 L511.86 272.49 L510.28 276.81"/>
<path stroke="rgb(0,210,140)" d="M502.44 285.2 L514.75 274.51 M510.26 275.54 L514.75 274.51 L513.1 278.8"/>
<path stroke="rgb(0,200,200)" d="M507.15 285.2 L518.02 275.75 M513.54 276.79 L518.02 275.75 L516.37 280.05"/>
<path stroke="rgb(0,200,200)" d="M511.86 285.2 L521.89 276.17 M517.43 277.28 L521.89 276.17 L520.32 280.49"/>
<path stroke="rgb(0,160,255)" d="M516.57 285.2 L525.18 276.7 M520.78 278.02 L525.18 276.7 L523.81 281.09"/>
<path stroke="rgb(0,160,255)" d="M521.28 285.2 L530.33 277.33 M525.85 278.36 L530.33 277.33 L528.68 281.62"/>
<path stroke="rgb(0,160,255)" d="M525.98 285.2 L533.97 277.21 M529.58 278.55 L533.97 277.21 L532.63 281.61"/>
<path stroke="rgb(0,160,255)" d="M530.69 285.2 L539.29 279.18 M534.73 279.74 L539.29 279.18 L537.2 283.28"/>
<path stroke="rgb(30,60,255)" d="M535.4 285.2 L542.57 281.22 M537.97 281.3 L542.57 281.22 L540.07 285.08"/>
<path stroke="rgb(110,0,220)" d="M540.11 285.2 L546.6 282.58 M542.02 282.1 L546.6 282.58 L543.64 286.1"/>
<path stroke="rgb(110,0,220)" d="M544.82 285.2 L551.32 283.21 M546.8 282.33 L551.32 283.21 L548.07 286.46"/>
<path stroke="rgb(30,60,255)" d="M549.52 285.2 L557.4 286.59 M553.78 283.76 L557.4 286.59 L553.03 288.01"/>
<path stroke="rgb(0,160,255)" d="M554.23 285.2 L563.24 291.51 M561.15 287.41 L563.24 291.51 L558.68 290.95"/>
<path stroke="rgb(0,200,200)" d="M558.94 285.2 L570.33 293.17 M568.24 289.07 L570.33 293.17 L565.76 292.61"/>
<path stroke="rgb(0,200,200)" d="M563.65 285.2 L574.68 293.82 M572.81 289.62 L574.68 293.82 L570.15 293.02"/>
<path stroke="rgb(0,200,200)" d="M568.36 285.2 L579.31 294.39 M577.59 290.13 L579.31 294.39 L574.81 293.44"/>
<path stroke="rgb(0,200,200)" d="M573.06 285.2 L583.84 294.9 M582.27 290.58 L583.84 294.9 L579.38 293.79"/>
<path stroke="rgb(0,200,200)" d="M577.77 285.2 L588.38 295.09 M586.88 290.74 L588.38 295.09 L583.93 293.9"/>
<path stroke="rgb(0,210,140)" d="M582.48 285.2 L593.09 295.81 M591.74 291.41 L593.09 295.81 L588.69 294.46"/>
<path stroke="rgb(0,210,140)" d="M587.19 285.2 L597.76 296.54 M596.57 292.09 L597.76 296.54 L593.41 295.04"/>
<path stroke="rgb(0,220,0)" d="M591.9 285.2 L602.14 300.97 M601.73 296.38 L602.14 300.97 L598.11 298.74"/>
<path stroke="rgb(0,200,200)" d="M596.6 285.2 L602 298.55 M602.48 293.98 L602 298.55 L598.47 295.59"/>
<path stroke="rgb(0,160,255)" d="M601.31 285.2 L604.4 294.71 M605.2 290.18 L604.4 294.71 L601.09 291.52"/>
<path stroke="rgb(30,60,255)" d="M606.02 285.2 L603.28 292.72 M606.7 289.64 L603.28 292.72 L602.64 288.16"/>
<path stroke="rgb(0,160,255)" d="M610.73 285.2 L601.41 282.17 M604.6 285.48 L601.41 282.17 L605.94 281.37"/>
<path stroke="rgb(0,200,200)" d="M615.44 285.2 L603 281.4 M606.26 284.65 L603 281.4 L607.52 280.52"/>
<path stroke="rgb(0,160,255)" d="M620.14 285.2 L610.87 281.45 M613.83 284.98 L610.87 281.45 L615.45 280.97"/>
<path stroke="rgb(30,60,255)" d="M624.85 285.2 L616.97 283.81 M620.6 286.64 L616.97 283.81 L621.35 282.39"/>
<path stroke="rgb(160,0,200)" d="M629.56 285.2 L624.56 285.2 M628.62 287.36 L624.56 285.2 L628.62 283.04"/>
<path stroke="rgb(160,0,200)" d="M634.27 285.2 L629.29 285.64 M633.52 287.43 L629.29 285.64 L633.14 283.13"/>
<path stroke="rgb(160,0,200)" d="M638.98 285.2 L634.05 286.07 M638.43 287.49 L634.05 286.07 L637.68 283.24"/>
<path stroke="rgb(160,0,200)" d="M643.68 285.2 L638.85 286.49 M643.34 287.53 L638.85 286.49 L642.22 283.36"/>
<path stroke="rgb(160,0,200)" d="M648.39 285.2 L643.69 286.91 M648.25 287.55 L643.69 286.91 L646.77 283.49"/>
<path stroke="rgb(160,0,200)" d="M653.1 285.2 L648.4 286.91 M652.96 287.55 L648.4 286.91 L651.48 283.49"/>
<path stroke="rgb(160,0,200)" d="M657.81 285.2 L653.71 288.07 M658.28 287.51 L653.71 288.07 L655.8 283.97"/>
<path stroke="rgb(160,0,200)" d="M662.52 285.2 L663 290.78 M664.8 286.54 L663 290.78 L660.5 286.92"/>
<path stroke="rgb(30,60,255)" d="M667.22 285.2 L671.7 291.59 M671.14 287.02 L671.7 291.59 L667.6 289.5"/>
<path stroke="rgb(30,60,255)" d="M671.93 285.2 L675.73 291.78 M675.57 287.18 L675.73 291.78 L671.83 289.34"/>
<path stroke="rgb(0,160,255)" d="M676.64 285.2 L682.1 293.93 M681.78 289.35 L682.1 293.93 L678.11 291.63"/>
<path stroke="rgb(0,210,140)" d="M681.35 285.2 L692.72 297.83 M691.61 293.37 L692.72 297.83 L688.4 296.26"/>
<path stroke="rgb(160,230,50)" d="M686.06 285.2 L703.89 302.72 M702.5 298.34 L703.89 302.72 L699.48 301.42"/>
<path stroke="rgb(160,230,50)" d="M690.76 285.2 L708.18 302.43 M706.81 298.04 L708.18 302.43 L703.77 301.11"/>
<path stroke="rgb(0,220,0)" d="M695.47 285.2 L704.42 302.75 M704.5 298.15 L704.42 302.75 L700.65 300.11"/>
<path stroke="rgb(0,210,140)" d="M700.18 285.2 L709.88 298.55 M709.24 293.99 L709.88 298.55 L705.74 296.53"/>
<path stroke="rgb(0,210,140)" d="M704.89 285.2 L714.59 298.55 M713.95 293.99 L714.59 298.55 L710.45 296.53"/>
<path stroke="rgb(0,210,140)" d="M709.6 285.2 L717.7 299.23 M717.54 294.63 L717.7 299.23 L713.79 296.79"/>
<path stroke="rgb(0,200,200)" d="M714.3 285.2 L719.16 298.54 M719.8 293.99 L719.16 298.54 L715.74 295.47"/>
<path stroke="rgb(0,200,200)" d="M719.01 285.2 L717.6 298.63 M720.17 294.81 L717.6 298.63 L715.88 294.36"/>
<path stroke="rgb(0,160,255)" d="M723.72 285.2 L719.91 296.26 M723.28 293.13 L719.91 296.26 L719.19 291.72"/>
<path stroke="rgb(0,200,200)" d="M728.43 285.2 L725.83 297.43 M728.79 293.9 L725.83 297.43 L724.56 293.01"/>
<path stroke="rgb(30,60,255)" d="M733.14 285.2 L732.72 293.19 M735.09 289.25 L732.72 293.19 L730.77 289.02"/>
<path stroke="rgb(30,60,255)" d="M737.84 285.2 L739.81 292.54 M740.85 288.06 L739.81 292.54 L736.67 289.18"/>
<path stroke="rgb(160,0,200)" d="M742.55 285.2 L743.42 290.12 M744.84 285.75 L743.42 290.12 L740.59 286.5"/>
<path stroke="rgb(160,0,200)" d="M747.26 285.2 L747.26 290.2 M749.42 286.14 L747.26 290.2 L745.1 286.14"/>
<path stroke="rgb(160,0,200)" d="M751.97 285.2 L751.53 290.18 M754.04 286.32 L751.53 290.18 L749.73 285.95"/>
<path stroke="rgb(160,0,200)" d="M756.68 285.2 L756.68 290.2 M758.84 286.14 L756.68 290.2 L754.52 286.14"/>
<path stroke="rgb(160,0,200)" d="M761.38 285.2 L761.82 290.18 M763.62 285.95 L761.82 290.18 L759.31 286.32"/>
<path stroke="rgb(160,0,200)" d="M766.09 285.2 L766.99 290.32 M768.42 285.95 L766.99 290.32 L764.16 286.7"/>
<path stroke="rgb(30,60,255)" d="M770.8 285.2 L775.11 291.58 M774.62 287.01 L775.11 291.58 L771.04 289.42"/>
<path stroke="rgb(0,160,255)" d="M775.51 285.2 L784.65 292.34 M782.78 288.14 L784.65 292.34 L780.12 291.54"/>
<path stroke="rgb(0,200,200)" d="M780.22 285.2 L790.03 293.73 M788.38 289.43 L790.03 293.73 L785.55 292.69"/>
<path stroke="rgb(0,210,140)" d="M784.92 285.2 L796.73 297.43 M795.47 293.01 L796.73 297.43 L792.36 296.01"/>
<path stroke="rgb(0,220,0)" d="M789.63 285.2 L803.28 300.9 M802.24 296.42 L803.28 300.9 L798.98 299.25"/>
<path stroke="rgb(0,220,0)" d="M794.34 285.2 L807.23 300.89 M806.32 296.38 L807.23 300.89 L802.98 299.12"/>
<path stroke="rgb(0,220,0)" d="M799.05 285.2 L811.36 300.96 M810.56 296.43 L811.36 300.96 L807.16 299.09"/>
<path stroke="rgb(0,220,0)" d="M803.76 285.2 L817.47 300.97 M816.43 296.49 L817.47 300.97 L813.17 299.32"/>
<path stroke="rgb(0,220,0)" d="M808.46 285.2 L819.08 301.55 M818.68 296.97 L819.08 301.55 L815.06 299.32"/>
<path stroke="rgb(0,210,140)" d="M813.17 285.2 L818.27 300.89 M819.07 296.36 L818.27 300.89 L814.96 297.7"/>
<path stroke="rgb(0,210,140)" d="M817.88 285.2 L821.32 300.11 M822.51 295.66 L821.32 300.11 L818.3 296.64"/>
<path stroke="rgb(0,220,0)" d="M822.59 285.2 L825.12 303.22 M826.69 298.9 L825.12 303.22 L822.42 299.5"/>
<path stroke="rgb(0,210,140)" d="M827.3 285.2 L813.2 290.33 M817.76 290.97 L813.2 290.33 L816.28 286.91"/>
<path stroke="rgb(0,200,200)" d="M832 285.2 L819.13 287.01 M823.45 288.58 L819.13 287.01 L822.85 284.31"/>
<path stroke="rgb(0,200,200)" d="M836.71 285.2 L824.22 284.76 M828.2 287.06 L824.22 284.76 L828.35 282.75"/>
<path stroke="rgb(0,160,255)" d="M841.42 285.2 L830.66 282.91 M834.18 285.87 L830.66 282.91 L835.08 281.65"/>
<path stroke="rgb(0,160,255)" d="M846.13 285.2 L836.62 282.11 M839.81 285.42 L836.62 282.11 L841.15 281.31"/>
<path stroke="rgb(0,160,255)" d="M850.84 285.2 L841.44 281.78 M844.52 285.2 L841.44 281.78 L845.99 281.14"/>
<path stroke="rgb(30,60,255)" d="M855.54 285.2 L848.48 281.44 M851.05 285.26 L848.48 281.44 L853.08 281.44"/>
<path stroke="rgb(30,60,255)" d="M860.25 285.2 L853.32 281.2 M855.76 285.1 L853.32 281.2 L857.92 281.36"/>
</g>
<g fill="none" stroke-width="1.3" stroke-linecap="round" stroke-linejoin="round">
<path stroke="rgb(0,160,255)" d="M182.3 331.5 L187 320.95 M183.37 323.78 L187 320.95 L187.32 325.54"/>
<path stroke="rgb(0,160,255)" d="M187.01 331.5 L192.51 321.97 M188.61 324.41 L192.51 321.97 L192.35 326.57"/>
<path stroke="rgb(0,210,140)" d="M191.72 331.5 L199.31 318.87 M195.36 321.23 L199.31 318.87 L199.07 323.46"/>
<path stroke="rgb(0,200,200)" d="M196.42 331.5 L203.68 319.43 M199.73 321.8 L203.68 319.43 L203.43 324.02"/>
<path stroke="rgb(0,200,200)" d="M201.13 331.5 L211.11 322.52 M206.64 323.63 L211.11 322.52 L209.53 326.84"/>
<path stroke="rgb(30,60,255)" d="M205.84 331.5 L213.14 326.58 M208.56 327.06 L213.14 326.58 L210.98 330.64"/>
<path stroke="rgb(0,160,255)" d="M210.55 331.5 L220.96 332.41 M217.1 329.91 L220.96 332.41 L216.72 334.21"/>
<path stroke="rgb(0,200,200)" d="M215.26 331.5 L228.13 333.31 M224.41 330.61 L228.13 333.31 L223.81 334.88"/>
<path stroke="rgb(0,200,200)" d="M219.96 331.5 L233.11 334.05 M229.53 331.16 L233.11 334.05 L228.71 335.4"/>
<path stroke="rgb(0,200,200)" d="M224.67 331.5 L237.17 335.08 M233.86 331.89 L237.17 335.08 L232.67 336.04"/>
<path stroke="rgb(0,200,200)" d="M229.38 331.5 L242.04 336.61 M239.08 333.09 L242.04 336.61 L237.46 337.09"/>
<path stroke="rgb(0,210,140)" d="M234.09 331.5 L247.63 338.7 M245.06 334.89 L247.63 338.7 L243.03 338.7"/>
<path stroke="rgb(30,60,255)" d="M238.8 331.5 L245.73 336.92 M243.86 332.72 L245.73 336.92 L241.2 336.12"/>
<path stroke="rgb(160,0,200)" d="M243.5 331.5 L239.45 334.34 M244.01 333.78 L239.45 334.34 L241.54 330.24"/>
<path stroke="rgb(160,0,200)" d="M248.21 331.5 L243.56 333.19 M248.12 333.83 L243.56 333.19 L246.64 329.77"/>
<path stroke="rgb(160,0,200)" d="M252.92 331.5 L247.44 331.98 M251.68 333.78 L247.44 331.98 L251.3 329.47"/>
<path stroke="rgb(160,0,200)" d="M257.63 331.5 L252.21 330.54 M255.84 333.38 L252.21 330.54 L256.59 329.12"/>
<path stroke="rgb(160,0,200)" d="M262.34 331.5 L257.35 329.18 M260.12 332.85 L257.35 329.18 L261.95 328.93"/>
<path stroke="rgb(0,160,255)" d="M267.04 331.5 L262.09 322.18 M262.09 326.78 L262.09 322.18 L265.9 324.75"/>
<path stroke="rgb(0,200,200)" d="M271.75 331.5 L273.25 317.28 M270.67 321.09 L273.25 317.28 L274.97 321.54"/>
<path stroke="rgb(0,210,140)" d="M276.46 331.5 L280.59 316.09 M277.45 319.46 L280.59 316.09 L281.62 320.58"/>
<path stroke="rgb(0,210,140)" d="M281.17 331.5 L284.44 316.11 M281.48 319.64 L284.44 316.11 L285.71 320.54"/>
<path stroke="rgb(0,210,140)" d="M285.88 331.5 L288.61 316.01 M285.78 319.63 L288.61 316.01 L290.03 320.38"/>
<path stroke="rgb(0,210,140)" d="M290.58 331.5 L293.8 314.98 M290.9 318.55 L293.8 314.98 L295.14 319.38"/>
<path stroke="rgb(0,210,140)" d="M295.29 331.5 L298.25 314.71 M295.42 318.33 L298.25 314.71 L299.67 319.08"/>
<path stroke="rgb(0,210,140)" d="M300 331.5 L301.77 314.65 M299.2 318.47 L301.77 314.65 L303.49 318.92"/>
<path stroke="rgb(0,210,140)" d="M304.71 331.5 L304.71 315 M302.55 319.06 L304.71 315 L306.87 319.06"/>
<path stroke="rgb(0,210,140)" d="M309.42 331.5 L308.85 315.34 M306.84 319.47 L308.85 315.34 L311.15 319.32"/>
<path stroke="rgb(0,210,140)" d="M314.12 331.5 L313.58 315.78 M311.56 319.91 L313.58 315.78 L315.88 319.76"/>
<path stroke="rgb(0,210,140)" d="M318.83 331.5 L318.57 316.65 M316.48 320.75 L318.57 316.65 L320.8 320.68"/>
<path stroke="rgb(0,160,255)" d="M323.54 331.5 L326.77 321.56 M323.46 324.76 L326.77 321.56 L327.57 326.09"/>
<path stroke="rgb(0,210,140)" d="M328.25 331.5 L337.32 319.88 M333.12 321.76 L337.32 319.88 L336.52 324.41"/>
<path stroke="rgb(0,210,140)" d="M332.96 331.5 L344.27 319.79 M339.89 321.21 L344.27 319.79 L343 324.21"/>
<path stroke="rgb(0,220,0)" d="M337.66 331.5 L352.38 317.29 M347.96 318.56 L352.38 317.29 L350.96 321.66"/>
<path stroke="rgb(230,220,50)" d="M342.37 331.5 L362.48 313.39 M358.02 314.51 L362.48 313.39 L360.91 317.72"/>
<path stroke="rgb(230,175,45)" d="M347.08 331.5 L368.63 309.49 M364.24 310.89 L368.63 309.49 L367.33 313.91"/>
<path stroke="rgb(230,175,45)" d="M351.79 331.5 L374.78 312.88 M370.27 313.76 L374.78 312.88 L372.99 317.11"/>
<path stroke="rgb(230,220,50)" d="M356.5 331.5 L380.31 317.75 M375.71 317.91 L380.31 317.75 L377.87 321.65"/>
<path stroke="rgb(160,230,50)" d="M361.2 331.5 L380.17 318.71 M375.6 319.19 L380.17 318.71 L378.01 322.77"/>
<path stroke="rgb(230,220,50)" d="M365.91 331.5 L384.58 312.83 M380.18 314.18 L384.58 312.83 L383.23 317.23"/>
<path stroke="rgb(160,230,50)" d="M370.62 331.5 L386.18 312.96 M381.91 314.68 L386.18 312.96 L385.22 317.46"/>
<path stroke="rgb(0,210,140)" d="M375.33 331.5 L385.23 319.7 M380.96 321.43 L385.23 319.7 L384.27 324.2"/>
<path stroke="rgb(0,210,140)" d="M380.04 331.5 L385.63 316.92 M382.16 319.94 L385.63 316.92 L386.19 321.48"/>
<path stroke="rgb(0,210,140)" d="M384.74 331.5 L384.74 315.33 M382.58 319.39 L384.74 315.33 L386.9 319.39"/>
<path stroke="rgb(160,230,50)" d="M389.45 331.5 L383.98 308.72 M382.83 313.18 L383.98 308.72 L387.03 312.17"/>
<path stroke="rgb(230,220,50)" d="M394.16 331.5 L388.71 305.84 M387.44 310.26 L388.71 305.84 L391.66 309.37"/>
<path stroke="rgb(160,230,50)" d="M398.87 331.5 L393.85 307.87 M392.58 312.29 L393.85 307.87 L396.8 311.4"/>
<path stroke="rgb(160,230,50)" d="M403.58 331.5 L398.22 308.32 M397.03 312.76 L398.22 308.32 L401.24 311.79"/>
<path stroke="rgb(160,230,50)" d="M408.28 331.5 L404.41 309.51 M402.99 313.89 L404.41 309.51 L407.24 313.14"/>
<path stroke="rgb(160,230,50)" d="M412.99 331.5 L411.01 308.89 M409.22 313.13 L411.01 308.89 L413.52 312.75"/>
<path stroke="rgb(230,220,50)" d="M417.7 331.5 L418.16 305.27 M415.93 309.3 L418.16 305.27 L420.25 309.37"/>
<path stroke="rgb(230,220,50)" d="M422.41 331.5 L426.8 305.27 M424 308.92 L426.8 305.27 L428.26 309.63"/>
<path stroke="rgb(230,220,50)" d="M427.12 331.5 L432.49 307.07 M429.51 310.58 L432.49 307.07 L433.72 311.5"/>
<path stroke="rgb(160,230,50)" d="M431.82 331.5 L444.66 313.37 M440.55 315.43 L444.66 313.37 L444.08 317.93"/>
<path stroke="rgb(240,130,40)" d="M436.53 331.5 L460.19 307.25 M455.81 308.65 L460.19 307.25 L458.9 311.67"/>
<path stroke="rgb(230,175,45)" d="M441.24 331.5 L459.73 307.84 M455.53 309.71 L459.73 307.84 L458.93 312.37"/>
<path stroke="rgb(230,220,50)" d="M445.95 331.5 L465.69 313.97 M461.22 315.05 L465.69 313.97 L464.09 318.28"/>
<path stroke="rgb(250,60,60)" d="M450.66 331.5 L482.33 312.09 M477.74 312.37 L482.33 312.09 L480 316.05"/>
<path stroke="rgb(250,60,60)" d="M455.36 331.5 L491.37 312.03 M486.77 312.06 L491.37 312.03 L488.82 315.86"/>
<path stroke="rgb(250,60,60)" d="M460.07 331.5 L500.21 316.41 M495.64 315.82 L500.21 316.41 L497.16 319.86"/>
<path stroke="rgb(240,0,130)" d="M464.78 331.5 L505.72 315.79 M501.15 315.23 L505.72 315.79 L502.7 319.26"/>
<path stroke="rgb(240,0,130)" d="M469.49 331.5 L509.62 312.79 M505.03 312.55 L509.62 312.79 L506.85 316.46"/>
<path stroke="rgb(250,60,60)" d="M474.2 331.5 L512.4 314.81 M507.81 314.46 L512.4 314.81 L509.54 318.42"/>
<path stroke="rgb(250,60,60)" d="M478.9 331.5 L517.98 317.28 M513.42 316.64 L517.98 317.28 L514.9 320.7"/>
<path stroke="rgb(250,60,60)" d="M483.61 331.5 L522.11 326.09 M517.79 324.52 L522.11 326.09 L518.39 328.79"/>
<path stroke="rgb(240,130,40)" d="M488.32 331.5 L520.6 328.68 M516.36 326.88 L520.6 328.68 L516.74 331.18"/>
<path stroke="rgb(160,230,50)" d="M493.03 331.5 L509.12 316.5 M504.67 317.69 L509.12 316.5 L507.62 320.85"/>
<path stroke="rgb(0,220,0)" d="M497.74 331.5 L513.27 317.52 M508.8 318.63 L513.27 317.52 L511.69 321.84"/>
<path stroke="rgb(0,220,0)" d="M502.44 331.5 L515.98 319.74 M511.49 320.77 L515.98 319.74 L514.33 324.03"/>
<path stroke="rgb(0,210,140)" d="M507.15 331.5 L519.11 321.11 M514.62 322.14 L519.11 321.11 L517.46 325.4"/>
<path stroke="rgb(0,210,140)" d="M511.86 331.5 L522.9 321.56 M518.43 322.68 L522.9 321.56 L521.32 325.89"/>
<path stroke="rgb(0,200,200)" d="M516.57 331.5 L526.05 322.15 M521.64 323.47 L526.05 322.15 L524.67 326.54"/>
<path stroke="rgb(0,200,200)" d="M521.28 331.5 L531.24 322.84 M526.76 323.87 L531.24 322.84 L529.59 327.13"/>
<path stroke="rgb(0,200,200)" d="M525.98 331.5 L534.77 322.71 M530.37 324.06 L534.77 322.71 L533.43 327.11"/>
<path stroke="rgb(0,160,255)" d="M530.69 331.5 L540.15 324.88 M535.59 325.44 L540.15 324.88 L538.06 328.97"/>
<path stroke="rgb(30,60,255)" d="M535.4 331.5 L543.29 327.13 M538.69 327.21 L543.29 327.13 L540.78 330.98"/>
<path stroke="rgb(30,60,255)" d="M540.11 331.5 L547.25 328.62 M542.67 328.13 L547.25 328.62 L544.29 332.14"/>
<path stroke="rgb(30,60,255)" d="M544.82 331.5 L551.97 329.31 M547.45 328.44 L551.97 329.31 L548.72 332.57"/>
<path stroke="rgb(30,60,255)" d="M549.52 331.5 L558.19 333.03 M554.57 330.2 L558.19 333.03 L553.82 334.45"/>
<path stroke="rgb(0,160,255)" d="M554.23 331.5 L564.14 338.44 M562.06 334.34 L564.14 338.44 L559.58 337.88"/>
<path stroke="rgb(0,210,140)" d="M558.94 331.5 L571.46 340.27 M569.38 336.17 L571.46 340.27 L566.9 339.71"/>
<path stroke="rgb(0,210,140)" d="M563.65 331.5 L575.78 340.98 M573.91 336.78 L575.78 340.98 L571.25 340.18"/>
<path stroke="rgb(0,210,140)" d="M568.36 331.5 L580.41 341.61 M578.68 337.35 L580.41 341.61 L575.91 340.65"/>
<path stroke="rgb(0,210,140)" d="M573.06 331.5 L584.92 342.17 M583.34 337.85 L584.92 342.17 L580.45 341.06"/>
<path stroke="rgb(0,210,140)" d="M577.77 331.5 L589.44 342.38 M587.94 338.03 L589.44 342.38 L584.99 341.19"/>
<path stroke="rgb(0,210,140)" d="M582.48 331.5 L594.15 343.17 M592.8 338.77 L594.15 343.17 L589.75 341.82"/>
<path stroke="rgb(0,210,140)" d="M587.19 331.5 L598.82 343.97 M597.63 339.53 L598.82 343.97 L594.47 342.47"/>
<path stroke="rgb(0,220,0)" d="M591.9 331.5 L603.16 348.84 M602.76 344.26 L603.16 348.84 L599.14 346.61"/>
<path stroke="rgb(0,210,140)" d="M596.6 331.5 L602.54 346.19 M603.02 341.61 L602.54 346.19 L599.01 343.23"/>
<path stroke="rgb(0,160,255)" d="M601.31 331.5 L604.71 341.96 M605.51 337.43 L604.71 341.96 L601.4 338.77"/>
<path stroke="rgb(30,60,255)" d="M606.02 331.5 L603.01 339.77 M606.43 336.69 L603.01 339.77 L602.37 335.21"/>
<path stroke="rgb(0,160,255)" d="M610.73 331.5 L600.48 328.17 M603.67 331.48 L600.48 328.17 L605.01 327.37"/>
<path stroke="rgb(0,200,200)" d="M615.44 331.5 L601.76 327.32 M605.01 330.57 L601.76 327.32 L606.28 326.44"/>
<path stroke="rgb(0,160,255)" d="M620.14 331.5 L609.94 327.38 M612.9 330.9 L609.94 327.38 L614.52 326.9"/>
<path stroke="rgb(30,60,255)" d="M624.85 331.5 L616.19 329.97 M619.81 332.8 L616.19 329.97 L620.56 328.55"/>
<path stroke="rgb(160,0,200)" d="M629.56 331.5 L624.06 331.5 M628.12 333.66 L624.06 331.5 L628.12 329.34"/>
<path stroke="rgb(160,0,200)" d="M634.27 331.5 L628.79 331.98 M633.02 333.78 L628.79 331.98 L632.65 329.47"/>
<path stroke="rgb(160,0,200)" d="M638.98 331.5 L633.56 332.46 M637.93 333.88 L633.56 332.46 L637.18 329.62"/>
<path stroke="rgb(160,0,200)" d="M643.68 331.5 L638.37 332.92 M642.85 333.96 L638.37 332.92 L641.74 329.79"/>
<path stroke="rgb(160,0,200)" d="M648.39 331.5 L643.22 333.38 M647.78 334.02 L643.22 333.38 L646.3 329.96"/>
<path stroke="rgb(160,0,200)" d="M653.1 331.5 L648.31 333.24 M652.86 333.88 L648.31 333.24 L651.39 329.83"/>
<path stroke="rgb(160,0,200)" d="M657.81 331.5 L653.63 334.43 M658.2 333.86 L653.63 334.43 L655.72 330.33"/>
<path stroke="rgb(160,0,200)" d="M662.52 331.5 L663.01 337.19 M664.81 332.96 L663.01 337.19 L660.51 333.33"/>
<path stroke="rgb(30,60,255)" d="M667.22 331.5 L671.79 338.02 M671.23 333.45 L671.79 338.02 L667.69 335.93"/>
<path stroke="rgb(30,60,255)" d="M671.93 331.5 L675.81 338.21 M675.65 333.62 L675.81 338.21 L671.91 335.78"/>
<path stroke="rgb(0,160,255)" d="M676.64 331.5 L682.21 340.41 M681.89 335.82 L682.21 340.41 L678.22 338.11"/>
<path stroke="rgb(0,210,140)" d="M681.35 331.5 L692.95 344.39 M691.84 339.92 L692.95 344.39 L688.63 342.81"/>
<path stroke="rgb(230,220,50)" d="M686.06 331.5 L704.24 349.37 M702.86 344.99 L704.24 349.37 L699.83 348.07"/>
<path stroke="rgb(230,220,50)" d="M690.76 331.5 L708.53 349.08 M707.16 344.69 L708.53 349.08 L704.12 347.76"/>
<path stroke="rgb(0,220,0)" d="M695.47 331.5 L704.59 349.4 M704.67 344.8 L704.59 349.4 L700.83 346.77"/>
<path stroke="rgb(0,210,140)" d="M700.18 331.5 L710.07 345.12 M709.43 340.56 L710.07 345.12 L705.94 343.1"/>
<path stroke="rgb(0,210,140)" d="M704.89 331.5 L714.78 345.12 M714.14 340.56 L714.78 345.12 L710.65 343.1"/>
<path stroke="rgb(0,210,140)" d="M709.6 331.5 L717.86 345.81 M717.7 341.21 L717.86 345.81 L713.96 343.37"/>
<path stroke="rgb(0,200,200)" d="M714.3 331.5 L719.26 345.11 M719.9 340.56 L719.26 345.11 L715.84 342.03"/>
<path stroke="rgb(0,200,200)" d="M719.01 331.5 L717.57 345.19 M720.14 341.38 L717.57 345.19 L715.85 340.93"/>
<path stroke="rgb(0,160,255)" d="M723.72 331.5 L719.83 342.78 M723.2 339.65 L719.83 342.78 L719.12 338.24"/>
<path stroke="rgb(0,210,140)" d="M728.43 331.5 L725.18 346.78 M728.14 343.26 L725.18 346.78 L723.91 342.36"/>
<path stroke="rgb(0,160,255)" d="M733.14 331.5 L732.61 341.49 M734.98 337.54 L732.61 341.49 L730.67 337.32"/>
<path stroke="rgb(30,60,255)" d="M737.84 331.5 L740.3 340.68 M741.34 336.19 L740.3 340.68 L737.17 337.31"/>
<path stroke="rgb(110,0,220)" d="M742.55 331.5 L743.64 337.66 M745.06 333.28 L743.64 337.66 L740.81 334.03"/>
<path stroke="rgb(110,0,220)" d="M747.26 331.5 L747.26 337.75 M749.42 333.69 L747.26 337.75 L745.1 333.69"/>
<path stroke="rgb(110,0,220)" d="M751.97 331.5 L751.42 337.73 M753.93 333.87 L751.42 337.73 L749.63 333.49"/>
<path stroke="rgb(110,0,220)" d="M756.68 331.5 L756.68 337.75 M758.84 333.69 L756.68 337.75 L754.52 333.69"/>
<path stroke="rgb(110,0,220)" d="M761.38 331.5 L761.93 337.73 M763.73 333.49 L761.93 337.73 L759.42 333.87"/>
<path stroke="rgb(110,0,220)" d="M766.09 331.5 L767.22 337.9 M768.64 333.53 L767.22 337.9 L764.39 334.28"/>
<path stroke="rgb(30,60,255)" d="M770.8 331.5 L776.18 339.48 M775.7 334.9 L776.18 339.48 L772.12 337.32"/>
<path stroke="rgb(0,200,200)" d="M775.51 331.5 L785.56 339.36 M783.69 335.15 L785.56 339.36 L781.03 338.56"/>
<path stroke="rgb(0,200,200)" d="M780.22 331.5 L791.01 340.88 M789.36 336.59 L791.01 340.88 L786.53 339.85"/>
<path stroke="rgb(0,220,0)" d="M784.92 331.5 L797.91 344.95 M796.65 340.53 L797.91 344.95 L793.54 343.53"/>
<path stroke="rgb(160,230,50)" d="M789.63 331.5 L804.64 348.77 M803.61 344.29 L804.64 348.77 L800.35 347.12"/>
<path stroke="rgb(160,230,50)" d="M794.34 331.5 L808.51 348.76 M807.6 344.25 L808.51 348.76 L804.27 346.99"/>
<path stroke="rgb(160,230,50)" d="M799.05 331.5 L812.59 348.84 M811.79 344.31 L812.59 348.84 L808.39 346.97"/>
<path stroke="rgb(160,230,50)" d="M803.76 331.5 L818.84 348.85 M817.8 344.37 L818.84 348.85 L814.54 347.2"/>
<path stroke="rgb(0,220,0)" d="M808.46 331.5 L820.15 349.49 M819.75 344.91 L820.15 349.49 L816.12 347.26"/>
<path stroke="rgb(0,220,0)" d="M813.17 331.5 L818.78 348.76 M819.58 344.23 L818.78 348.76 L815.47 345.57"/>
<path stroke="rgb(0,210,140)" d="M817.88 331.5 L821.67 347.9 M822.86 343.46 L821.67 347.9 L818.65 344.43"/>
<path stroke="rgb(0,220,0)" d="M822.59 331.5 L825.37 351.33 M826.95 347 L825.37 351.33 L822.67 347.6"/>
<path stroke="rgb(0,210,140)" d="M827.3 331.5 L811.79 337.14 M816.35 337.78 L811.79 337.14 L814.87 333.72"/>
<path stroke="rgb(0,200,200)" d="M832 331.5 L817.84 333.49 M822.17 335.06 L817.84 333.49 L821.56 330.79"/>
<path stroke="rgb(0,200,200)" d="M836.71 331.5 L822.97 331.02 M826.95 333.32 L822.97 331.02 L827.1 329"/>
<path stroke="rgb(0,160,255)" d="M841.42 331.5 L829.58 328.98 M833.11 331.94 L829.58 328.98 L834.01 327.72"/>
<path stroke="rgb(0,160,255)" d="M846.13 331.5 L835.67 328.1 M838.86 331.41 L835.67 328.1 L840.2 327.3"/>
<path stroke="rgb(0,160,255)" d="M850.84 331.5 L840.5 327.74 M843.58 331.16 L840.5 327.74 L845.05 327.1"/>
<path stroke="rgb(30,60,255)" d="M855.54 331.5 L847.77 327.37 M850.35 331.18 L847.77 327.37 L852.37 327.37"/>
<path stroke="rgb(30,60,255)" d="M860.25 331.5 L852.63 327.1 M855.07 331 L852.63 327.1 L857.23 327.26"/>
</g>
<g fill="none" stroke-width="1.3" stroke-linecap="round" stroke-linejoin="round">
<path stroke="rgb(0,160,255)" d="M182.3 377.8 L186.83 367.63 M183.2 370.46 L186.83 367.63 L187.15 372.22"/>
<path stroke="rgb(0,160,255)" d="M187.01 377.8 L192.31 368.62 M188.41 371.06 L192.31 368.62 L192.15 373.22"/>
<path stroke="rgb(0,200,200)" d="M191.72 377.8 L199.03 365.62 M195.09 367.99 L199.03 365.62 L198.79 370.22"/>
<path stroke="rgb(0,200,200)" d="M196.42 377.8 L203.41 366.17 M199.47 368.54 L203.41 366.17 L203.17 370.76"/>
<path stroke="rgb(0,200,200)" d="M201.13 377.8 L210.74 369.15 M206.28 370.26 L210.74 369.15 L209.17 373.47"/>
<path stroke="rgb(30,60,255)" d="M205.84 377.8 L212.87 373.06 M208.3 373.54 L212.87 373.06 L210.71 377.12"/>
<path stroke="rgb(0,160,255)" d="M210.55 377.8 L222.57 378.85 M218.71 376.35 L222.57 378.85 L218.33 380.65"/>
<path stroke="rgb(0,200,200)" d="M215.26 377.8 L227.83 379.57 M224.11 376.86 L227.83 379.57 L223.51 381.14"/>
<path stroke="rgb(0,200,200)" d="M219.96 377.8 L232.8 380.3 M229.23 377.4 L232.8 380.3 L228.41 381.64"/>
<path stroke="rgb(0,200,200)" d="M224.67 377.8 L236.88 381.3 M233.57 378.11 L236.88 381.3 L232.38 382.26"/>
<path stroke="rgb(0,200,200)" d="M229.38 377.8 L241.74 382.8 M238.79 379.27 L241.74 382.8 L237.17 383.28"/>
<path stroke="rgb(0,210,140)" d="M234.09 377.8 L247.32 384.84 M244.75 381.02 L247.32 384.84 L242.72 384.84"/>
<path stroke="rgb(0,160,255)" d="M238.8 377.8 L248.76 383.55 M246.32 379.65 L248.76 383.55 L244.16 383.39"/>
<path stroke="rgb(0,160,255)" d="M243.5 377.8 L251.54 384.08 M249.67 379.88 L251.54 384.08 L247.01 383.28"/>
<path stroke="rgb(30,60,255)" d="M248.21 377.8 L254.29 383.88 M252.95 379.48 L254.29 383.88 L249.89 382.54"/>
<path stroke="rgb(160,0,200)" d="M252.92 377.8 L248.22 379.51 M252.78 380.15 L248.22 379.51 L251.3 376.09"/>
<path stroke="rgb(160,0,200)" d="M257.63 377.8 L252.65 378.24 M256.88 380.03 L252.65 378.24 L256.5 375.73"/>
<path stroke="rgb(160,0,200)" d="M262.34 377.8 L257.64 376.09 M260.72 379.51 L257.64 376.09 L262.19 375.45"/>
<path stroke="rgb(30,60,255)" d="M267.04 377.8 L268.09 369.26 M265.45 373.03 L268.09 369.26 L269.74 373.56"/>
<path stroke="rgb(0,210,140)" d="M271.75 377.8 L273.38 362.29 M270.81 366.1 L273.38 362.29 L275.11 366.55"/>
<path stroke="rgb(0,210,140)" d="M276.46 377.8 L280.96 360.99 M277.83 364.36 L280.96 360.99 L282 365.47"/>
<path stroke="rgb(0,210,140)" d="M281.17 377.8 L284.74 361.01 M281.78 364.54 L284.74 361.01 L286 365.44"/>
<path stroke="rgb(0,210,140)" d="M285.88 377.8 L288.86 360.9 M286.02 364.53 L288.86 360.9 L290.28 365.28"/>
<path stroke="rgb(0,220,0)" d="M290.58 377.8 L294.09 359.78 M291.19 363.35 L294.09 359.78 L295.43 364.18"/>
<path stroke="rgb(0,220,0)" d="M295.29 377.8 L298.52 359.48 M295.69 363.11 L298.52 359.48 L299.94 363.86"/>
<path stroke="rgb(0,220,0)" d="M300 377.8 L300.97 359.35 M298.6 363.29 L300.97 359.35 L302.91 363.51"/>
<path stroke="rgb(0,220,0)" d="M304.71 377.8 L303.3 359.86 M301.46 364.07 L303.3 359.86 L305.77 363.74"/>
<path stroke="rgb(0,210,140)" d="M309.42 377.8 L306.96 360.33 M305.39 364.65 L306.96 360.33 L309.66 364.05"/>
<path stroke="rgb(0,210,140)" d="M314.12 377.8 L311.29 360.88 M309.83 365.24 L311.29 360.88 L314.09 364.52"/>
<path stroke="rgb(0,210,140)" d="M318.83 377.8 L316.02 361.85 M314.6 366.22 L316.02 361.85 L318.85 365.47"/>
<path stroke="rgb(0,160,255)" d="M323.54 377.8 L327.06 366.96 M323.75 370.15 L327.06 366.96 L327.86 371.49"/>
<path stroke="rgb(0,210,140)" d="M328.25 377.8 L338.15 365.13 M333.95 367 L338.15 365.13 L337.35 369.66"/>
<path stroke="rgb(0,210,140)" d="M332.96 377.8 L345.29 365.02 M340.92 366.45 L345.29 365.02 L344.03 369.45"/>
<path stroke="rgb(0,220,0)" d="M337.66 377.8 L353.72 362.3 M349.3 363.56 L353.72 362.3 L352.3 366.67"/>
<path stroke="rgb(230,220,50)" d="M342.37 377.8 L361.2 360.85 M356.74 361.96 L361.2 360.85 L359.63 365.17"/>
<path stroke="rgb(230,175,45)" d="M347.08 377.8 L367.26 357.19 M362.87 358.59 L367.26 357.19 L365.96 361.61"/>
<path stroke="rgb(230,175,45)" d="M351.79 377.8 L373.32 360.36 M368.8 361.24 L373.32 360.36 L371.52 364.6"/>
<path stroke="rgb(240,130,40)" d="M356.5 377.8 L382.48 362.8 M377.88 362.96 L382.48 362.8 L380.04 366.7"/>
<path stroke="rgb(230,220,50)" d="M361.2 377.8 L381.9 363.84 M377.32 364.32 L381.9 363.84 L379.74 367.9"/>
<path stroke="rgb(230,175,45)" d="M365.91 377.8 L386.28 357.44 M381.88 358.78 L386.28 357.44 L384.93 361.83"/>
<path stroke="rgb(230,175,45)" d="M370.62 377.8 L387.59 357.58 M383.32 359.3 L387.59 357.58 L386.63 362.08"/>
<path stroke="rgb(0,220,0)" d="M375.33 377.8 L387.03 363.86 M382.76 365.58 L387.03 363.86 L386.07 368.36"/>
<path stroke="rgb(0,220,0)" d="M380.04 377.8 L386.65 360.57 M383.18 363.58 L386.65 360.57 L387.21 365.13"/>
<path stroke="rgb(0,220,0)" d="M384.74 377.8 L384.74 358.69 M382.58 362.75 L384.74 358.69 L386.9 362.75"/>
<path stroke="rgb(230,220,50)" d="M389.45 377.8 L383.49 352.97 M382.34 357.42 L383.49 352.97 L386.54 356.41"/>
<path stroke="rgb(230,175,45)" d="M394.16 377.8 L388.21 349.83 M386.95 354.25 L388.21 349.83 L391.17 353.35"/>
<path stroke="rgb(230,175,45)" d="M398.87 377.8 L393.39 352.04 M392.12 356.46 L393.39 352.04 L396.35 355.57"/>
<path stroke="rgb(230,220,50)" d="M403.58 377.8 L397.74 352.53 M396.55 356.97 L397.74 352.53 L400.76 356"/>
<path stroke="rgb(160,230,50)" d="M408.28 377.8 L404.06 353.83 M402.64 358.21 L404.06 353.83 L406.89 357.46"/>
<path stroke="rgb(230,220,50)" d="M412.99 377.8 L410.84 353.16 M409.04 357.39 L410.84 353.16 L413.34 357.01"/>
<path stroke="rgb(240,130,40)" d="M417.7 377.8 L418.23 347.7 M416 351.73 L418.23 347.7 L420.31 351.8"/>
<path stroke="rgb(240,130,40)" d="M422.41 377.8 L427.45 347.7 M424.64 351.35 L427.45 347.7 L428.9 352.06"/>
<path stroke="rgb(230,175,45)" d="M427.12 377.8 L433.28 349.77 M430.3 353.27 L433.28 349.77 L434.52 354.2"/>
<path stroke="rgb(230,175,45)" d="M431.82 377.8 L447 356.37 M442.89 358.44 L447 356.37 L446.41 360.93"/>
<path stroke="rgb(240,130,40)" d="M436.53 377.8 L461.48 352.23 M457.1 353.63 L461.48 352.23 L460.19 356.64"/>
<path stroke="rgb(240,130,40)" d="M441.24 377.8 L460.74 352.85 M456.53 354.72 L460.74 352.85 L459.94 357.38"/>
<path stroke="rgb(230,175,45)" d="M445.95 377.8 L466.77 359.32 M462.3 360.4 L466.77 359.32 L465.16 363.63"/>
<path stroke="rgb(250,60,60)" d="M450.66 377.8 L483.51 357.67 M478.92 357.95 L483.51 357.67 L481.17 361.63"/>
<path stroke="rgb(240,0,130)" d="M455.36 377.8 L492.7 357.61 M488.1 357.64 L492.7 357.61 L490.16 361.44"/>
<path stroke="rgb(240,0,130)" d="M460.07 377.8 L501.69 362.16 M497.13 361.56 L501.69 362.16 L498.65 365.61"/>
<path stroke="rgb(240,0,130)" d="M464.78 377.8 L507.23 361.5 M502.67 360.94 L507.23 361.5 L504.21 364.98"/>
<path stroke="rgb(240,0,130)" d="M469.49 377.8 L511.11 358.39 M506.51 358.15 L511.11 358.39 L508.34 362.07"/>
<path stroke="rgb(240,0,130)" d="M474.2 377.8 L513.81 360.49 M509.23 360.14 L513.81 360.49 L510.95 364.1"/>
<path stroke="rgb(240,0,130)" d="M478.9 377.8 L519.42 363.05 M514.87 362.41 L519.42 363.05 L516.35 366.47"/>
<path stroke="rgb(250,60,60)" d="M483.61 377.8 L523.54 372.19 M519.22 370.62 L523.54 372.19 L519.82 374.89"/>
<path stroke="rgb(240,130,40)" d="M488.32 377.8 L521.79 374.87 M517.56 373.07 L521.79 374.87 L517.93 377.38"/>
<path stroke="rgb(160,230,50)" d="M493.03 377.8 L510 361.98 M505.55 363.17 L510 361.98 L508.5 366.33"/>
<path stroke="rgb(0,220,0)" d="M497.74 377.8 L514.11 363.05 M509.65 364.17 L514.11 363.05 L512.54 367.37"/>
<path stroke="rgb(0,220,0)" d="M502.44 377.8 L516.71 365.4 M512.23 366.43 L516.71 365.4 L515.07 369.69"/>
<path stroke="rgb(0,210,140)" d="M507.15 377.8 L519.76 366.84 M515.28 367.88 L519.76 366.84 L518.11 371.14"/>
<path stroke="rgb(0,210,140)" d="M511.86 377.8 L523.5 367.32 M519.03 368.43 L523.5 367.32 L521.92 371.64"/>
<path stroke="rgb(0,200,200)" d="M516.57 377.8 L526.56 367.94 M522.15 369.26 L526.56 367.94 L525.19 372.33"/>
<path stroke="rgb(0,200,200)" d="M521.28 377.8 L531.78 368.67 M527.3 369.7 L531.78 368.67 L530.13 372.96"/>
<path stroke="rgb(0,200,200)" d="M525.98 377.8 L535.25 368.53 M530.85 369.88 L535.25 368.53 L533.91 372.93"/>
<path stroke="rgb(0,160,255)" d="M530.69 377.8 L540.67 370.81 M536.1 371.37 L540.67 370.81 L538.58 374.91"/>
<path stroke="rgb(30,60,255)" d="M535.4 377.8 L543.72 373.19 M539.12 373.27 L543.72 373.19 L541.21 377.05"/>
<path stroke="rgb(30,60,255)" d="M540.11 377.8 L547.64 374.76 M543.06 374.28 L547.64 374.76 L544.68 378.28"/>
<path stroke="rgb(30,60,255)" d="M544.82 377.8 L552.36 375.49 M547.84 374.62 L552.36 375.49 L549.11 378.75"/>
<path stroke="rgb(30,60,255)" d="M549.52 377.8 L558.66 379.41 M555.04 376.58 L558.66 379.41 L554.29 380.83"/>
<path stroke="rgb(0,200,200)" d="M554.23 377.8 L564.68 385.12 M562.6 381.02 L564.68 385.12 L560.12 384.56"/>
<path stroke="rgb(0,210,140)" d="M558.94 377.8 L572.15 387.05 M570.06 382.95 L572.15 387.05 L567.58 386.49"/>
<path stroke="rgb(0,210,140)" d="M563.65 377.8 L576.45 387.8 M574.57 383.6 L576.45 387.8 L571.92 387"/>
<path stroke="rgb(0,210,140)" d="M568.36 377.8 L581.06 388.46 M579.34 384.2 L581.06 388.46 L576.56 387.51"/>
<path stroke="rgb(0,210,140)" d="M573.06 377.8 L585.56 389.05 M583.99 384.73 L585.56 389.05 L581.1 387.94"/>
<path stroke="rgb(0,210,140)" d="M577.77 377.8 L590.07 389.27 M588.58 384.92 L590.07 389.27 L585.63 388.08"/>
<path stroke="rgb(0,210,140)" d="M582.48 377.8 L594.78 390.1 M593.44 385.7 L594.78 390.1 L590.38 388.76"/>
<path stroke="rgb(0,210,140)" d="M587.19 377.8 L599.45 390.95 M598.26 386.51 L599.45 390.95 L595.1 389.45"/>
<path stroke="rgb(0,220,0)" d="M591.9 377.8 L603.77 396.09 M603.37 391.51 L603.77 396.09 L599.75 393.86"/>
<path stroke="rgb(0,210,140)" d="M596.6 377.8 L602.86 393.29 M603.34 388.71 L602.86 393.29 L599.34 390.33"/>
<path stroke="rgb(0,160,255)" d="M601.31 377.8 L604.9 388.83 M605.7 384.3 L604.9 388.83 L601.59 385.64"/>
<path stroke="rgb(30,60,255)" d="M606.02 377.8 L602.85 386.52 M606.26 383.44 L602.85 386.52 L602.21 381.97"/>
<path stroke="rgb(0,160,255)" d="M610.73 377.8 L599.92 374.29 M603.11 377.6 L599.92 374.29 L604.45 373.49"/>
<path stroke="rgb(0,210,140)" d="M615.44 377.8 L601.01 373.39 M604.27 376.64 L601.01 373.39 L605.53 372.51"/>
<path stroke="rgb(0,160,255)" d="M620.14 377.8 L609.39 373.45 M612.35 376.98 L609.39 373.45 L613.96 372.97"/>
<path stroke="rgb(30,60,255)" d="M624.85 377.8 L615.71 376.19 M619.34 379.02 L615.71 376.19 L620.09 374.77"/>
<path stroke="rgb(160,0,200)" d="M629.56 377.8 L624.56 377.8 M628.62 379.96 L624.56 377.8 L628.62 375.64"/>
<path stroke="rgb(160,0,200)" d="M634.27 377.8 L629.29 378.24 M633.52 380.03 L629.29 378.24 L633.14 375.73"/>
<path stroke="rgb(160,0,200)" d="M638.98 377.8 L634.05 378.67 M638.43 380.09 L634.05 378.67 L637.68 375.84"/>
<path stroke="rgb(160,0,200)" d="M643.68 377.8 L638.85 379.09 M643.34 380.13 L638.85 379.09 L642.22 375.96"/>
<path stroke="rgb(160,0,200)" d="M648.39 377.8 L643.69 379.51 M648.25 380.15 L643.69 379.51 L646.77 376.09"/>
<path stroke="rgb(160,0,200)" d="M653.1 377.8 L648.4 379.51 M652.96 380.15 L648.4 379.51 L651.48 376.09"/>
<path stroke="rgb(160,0,200)" d="M657.81 377.8 L653.71 380.67 M658.28 380.11 L653.71 380.67 L655.8 376.57"/>
<path stroke="rgb(160,0,200)" d="M662.52 377.8 L663 383.38 M664.8 379.14 L663 383.38 L660.5 379.52"/>
<path stroke="rgb(30,60,255)" d="M667.22 377.8 L671.7 384.19 M671.14 379.62 L671.7 384.19 L667.6 382.1"/>
<path stroke="rgb(30,60,255)" d="M671.93 377.8 L675.73 384.38 M675.57 379.78 L675.73 384.38 L671.83 381.94"/>
<path stroke="rgb(0,160,255)" d="M676.64 377.8 L682.1 386.53 M681.78 381.95 L682.1 386.53 L678.11 384.23"/>
<path stroke="rgb(0,210,140)" d="M681.35 377.8 L692.72 390.43 M691.61 385.97 L692.72 390.43 L688.4 388.86"/>
<path stroke="rgb(230,220,50)" d="M686.06 377.8 L703.89 395.32 M702.5 390.94 L703.89 395.32 L699.48 394.02"/>
<path stroke="rgb(160,230,50)" d="M690.76 377.8 L708.18 395.03 M706.81 390.64 L708.18 395.03 L703.77 393.71"/>
<path stroke="rgb(0,220,0)" d="M695.47 377.8 L704.42 395.35 M704.5 390.75 L704.42 395.35 L700.65 392.71"/>
<path stroke="rgb(0,210,140)" d="M700.18 377.8 L709.88 391.15 M709.24 386.59 L709.88 391.15 L705.74 389.13"/>
<path stroke="rgb(0,210,140)" d="M704.89 377.8 L714.59 391.15 M713.95 386.59 L714.59 391.15 L710.45 389.13"/>
<path stroke="rgb(0,210,140)" d="M709.6 377.8 L717.7 391.83 M717.54 387.23 L717.7 391.83 L713.79 389.39"/>
<path stroke="rgb(0,200,200)" d="M714.3 377.8 L719.16 391.14 M719.8 386.59 L719.16 391.14 L715.74 388.07"/>
<path stroke="rgb(0,200,200)" d="M719.01 377.8 L717.6 391.23 M720.17 387.41 L717.6 391.23 L715.88 386.96"/>
<path stroke="rgb(0,160,255)" d="M723.72 377.8 L719.91 388.86 M723.28 385.73 L719.91 388.86 L719.19 384.32"/>
<path stroke="rgb(0,200,200)" d="M728.43 377.8 L727.29 390.75 M729.8 386.89 L727.29 390.75 L725.5 386.52"/>
<path stroke="rgb(0,200,200)" d="M733.14 377.8 L732 390.75 M734.51 386.89 L732 390.75 L730.21 386.52"/>
<path stroke="rgb(0,200,200)" d="M737.84 377.8 L736.75 390.25 M739.26 386.39 L736.75 390.25 L734.96 386.02"/>
<path stroke="rgb(0,160,255)" d="M742.55 377.8 L742 388.29 M744.37 384.34 L742 388.29 L740.06 384.12"/>
<path stroke="rgb(0,160,255)" d="M747.26 377.8 L747.26 387.8 M749.42 383.74 L747.26 387.8 L745.1 383.74"/>
<path stroke="rgb(0,160,255)" d="M751.97 377.8 L751.1 387.76 M753.6 383.9 L751.1 387.76 L749.3 383.53"/>
<path stroke="rgb(0,160,255)" d="M756.68 377.8 L756.68 387.8 M758.84 383.74 L756.68 387.8 L754.52 383.74"/>
<path stroke="rgb(0,160,255)" d="M761.38 377.8 L762.26 387.76 M764.05 383.53 L762.26 387.76 L759.75 383.9"/>
<path stroke="rgb(0,160,255)" d="M766.09 377.8 L767.92 388.14 M769.34 383.77 L767.92 388.14 L765.08 384.52"/>
<path stroke="rgb(0,160,255)" d="M770.8 377.8 L774.2 388.26 M775 383.73 L774.2 388.26 L770.89 385.07"/>
<path stroke="rgb(0,200,200)" d="M775.51 377.8 L784.16 388.11 M783.2 383.61 L784.16 388.11 L779.89 386.38"/>
<path stroke="rgb(0,210,140)" d="M780.22 377.8 L789.29 389.84 M788.57 385.3 L789.29 389.84 L785.12 387.9"/>
<path stroke="rgb(0,220,0)" d="M784.92 377.8 L795.37 394.52 M795.05 389.93 L795.37 394.52 L791.39 392.22"/>
<path stroke="rgb(160,230,50)" d="M789.63 377.8 L801.33 398.9 M801.25 394.3 L801.33 398.9 L797.47 396.4"/>
<path stroke="rgb(160,230,50)" d="M794.34 377.8 L805.18 398.71 M805.22 394.11 L805.18 398.71 L801.39 396.09"/>
<path stroke="rgb(160,230,50)" d="M799.05 377.8 L809.22 398.65 M809.38 394.05 L809.22 398.65 L805.5 395.95"/>
<path stroke="rgb(160,230,50)" d="M803.76 377.8 L815.51 399 M815.43 394.4 L815.51 399 L811.65 396.5"/>
<path stroke="rgb(160,230,50)" d="M808.46 377.8 L816.57 398.92 M817.13 394.35 L816.57 398.92 L813.1 395.9"/>
<path stroke="rgb(0,220,0)" d="M813.17 377.8 L815.17 396.84 M816.9 392.57 L815.17 396.84 L812.6 393.02"/>
<path stroke="rgb(0,210,140)" d="M817.88 377.8 L818.19 395.55 M820.28 391.45 L818.19 395.55 L815.96 391.52"/>
<path stroke="rgb(0,220,0)" d="M822.59 377.8 L825.53 398.71 M827.1 394.38 L825.53 398.71 L822.82 394.99"/>
<path stroke="rgb(0,210,140)" d="M827.3 377.8 L810.95 383.75 M815.5 384.39 L810.95 383.75 L814.02 380.33"/>
<path stroke="rgb(0,210,140)" d="M832 377.8 L817.07 379.9 M821.39 381.47 L817.07 379.9 L820.79 377.19"/>
<path stroke="rgb(0,200,200)" d="M836.71 377.8 L822.22 377.29 M826.2 379.59 L822.22 377.29 L826.36 375.28"/>
<path stroke="rgb(0,200,200)" d="M841.42 377.8 L828.94 375.15 M832.46 378.1 L828.94 375.15 L833.36 373.88"/>
<path stroke="rgb(0,160,255)" d="M846.13 377.8 L835.1 374.22 M838.29 377.52 L835.1 374.22 L839.63 373.42"/>
<path stroke="rgb(0,160,255)" d="M850.84 377.8 L839.94 373.83 M843.01 377.25 L839.94 373.83 L844.49 373.19"/>
<path stroke="rgb(30,60,255)" d="M855.54 377.8 L847.35 373.44 M849.92 377.26 L847.35 373.44 L851.95 373.44"/>
<path stroke="rgb(30,60,255)" d="M860.25 377.8 L852.22 373.16 M854.65 377.06 L852.22 373.16 L856.81 373.32"/>
</g>
<g fill="none" stroke-width="1.3" stroke-linecap="round" stroke-linejoin="round">
<path stroke="rgb(0,200,200)" d="M182.3 424.1 L187.37 412.71 M183.75 415.54 L187.37 412.71 L187.69 417.3"/>
<path stroke="rgb(0,160,255)" d="M187.01 424.1 L192.94 413.82 M189.04 416.26 L192.94 413.82 L192.78 418.42"/>
<path stroke="rgb(0,210,140)" d="M191.72 424.1 L199.91 410.46 M195.97 412.83 L199.91 410.46 L199.67 415.06"/>
<path stroke="rgb(0,210,140)" d="M196.42 424.1 L204.25 411.07 M200.31 413.44 L204.25 411.07 L204.01 415.67"/>
<path stroke="rgb(0,200,200)" d="M201.13 424.1 L211.9 414.41 M207.43 415.52 L211.9 414.41 L210.32 418.73"/>
<path stroke="rgb(30,60,255)" d="M205.84 424.1 L213.71 418.79 M209.14 419.27 L213.71 418.79 L211.55 422.85"/>
<path stroke="rgb(0,200,200)" d="M210.55 424.1 L224.01 425.28 M220.15 422.77 L224.01 425.28 L219.78 427.08"/>
<path stroke="rgb(0,200,200)" d="M215.26 424.1 L229.34 426.08 M225.62 423.38 L229.34 426.08 L225.02 427.65"/>
<path stroke="rgb(0,210,140)" d="M219.96 424.1 L234.35 426.9 M230.77 424 L234.35 426.9 L229.95 428.24"/>
<path stroke="rgb(0,200,200)" d="M224.67 424.1 L238.34 428.02 M235.04 424.83 L238.34 428.02 L233.85 428.98"/>
<path stroke="rgb(0,210,140)" d="M229.38 424.1 L243.23 429.69 M240.27 426.17 L243.23 429.69 L238.65 430.18"/>
<path stroke="rgb(0,210,140)" d="M234.09 424.1 L248.91 431.98 M246.34 428.17 L248.91 431.98 L244.31 431.98"/>
<path stroke="rgb(0,200,200)" d="M238.8 424.1 L249.75 430.43 M247.31 426.52 L249.75 430.43 L245.15 430.26"/>
<path stroke="rgb(0,160,255)" d="M243.5 424.1 L252.35 431.01 M250.47 426.81 L252.35 431.01 L247.82 430.21"/>
<path stroke="rgb(30,60,255)" d="M248.21 424.1 L254.9 430.79 M253.56 426.39 L254.9 430.79 L250.5 429.44"/>
<path stroke="rgb(160,0,200)" d="M252.92 424.1 L247.75 425.98 M252.31 426.62 L247.75 425.98 L250.83 422.56"/>
<path stroke="rgb(160,0,200)" d="M257.63 424.1 L252.15 424.58 M256.38 426.38 L252.15 424.58 L256.01 422.07"/>
<path stroke="rgb(160,0,200)" d="M262.34 424.1 L257.17 422.22 M260.25 425.64 L257.17 422.22 L261.72 421.58"/>
<path stroke="rgb(30,60,255)" d="M267.04 424.1 L268.2 414.71 M265.56 418.48 L268.2 414.71 L269.85 419"/>
<path stroke="rgb(0,210,140)" d="M271.75 424.1 L273.58 406.72 M271.01 410.54 L273.58 406.72 L275.3 410.99"/>
<path stroke="rgb(0,220,0)" d="M276.46 424.1 L281.5 405.28 M278.37 408.64 L281.5 405.28 L282.54 409.76"/>
<path stroke="rgb(0,220,0)" d="M281.17 424.1 L285.16 405.3 M282.21 408.82 L285.16 405.3 L286.43 409.72"/>
<path stroke="rgb(0,220,0)" d="M285.88 424.1 L289.21 405.17 M286.38 408.8 L289.21 405.17 L290.63 409.55"/>
<path stroke="rgb(0,220,0)" d="M290.58 424.1 L294.51 403.91 M291.61 407.49 L294.51 403.91 L295.85 408.31"/>
<path stroke="rgb(0,220,0)" d="M295.29 424.1 L298.91 403.58 M296.08 407.21 L298.91 403.58 L300.33 407.96"/>
<path stroke="rgb(0,220,0)" d="M300 424.1 L301.08 403.43 M298.71 407.37 L301.08 403.43 L303.03 407.6"/>
<path stroke="rgb(0,220,0)" d="M304.71 424.1 L303.13 404 M301.29 408.22 L303.13 404 L305.6 407.88"/>
<path stroke="rgb(0,220,0)" d="M309.42 424.1 L306.67 404.54 M305.09 408.86 L306.67 404.54 L309.37 408.26"/>
<path stroke="rgb(0,220,0)" d="M314.12 424.1 L310.95 405.14 M309.49 409.51 L310.95 405.14 L313.75 408.79"/>
<path stroke="rgb(0,220,0)" d="M318.83 424.1 L315.68 406.23 M314.26 410.61 L315.68 406.23 L318.51 409.86"/>
<path stroke="rgb(0,200,200)" d="M323.54 424.1 L327.49 411.96 M324.18 415.15 L327.49 411.96 L328.28 416.49"/>
<path stroke="rgb(0,220,0)" d="M328.25 424.1 L339.34 409.91 M335.13 411.78 L339.34 409.91 L338.54 414.44"/>
<path stroke="rgb(0,220,0)" d="M332.96 424.1 L346.77 409.79 M342.4 411.21 L346.77 409.79 L345.51 414.21"/>
<path stroke="rgb(230,220,50)" d="M337.66 424.1 L355.65 406.73 M351.22 408 L355.65 406.73 L354.22 411.11"/>
<path stroke="rgb(230,175,45)" d="M342.37 424.1 L363.46 405.11 M359 406.22 L363.46 405.11 L361.89 409.43"/>
<path stroke="rgb(250,60,60)" d="M347.08 424.1 L369.68 401.02 M365.3 402.41 L369.68 401.02 L368.38 405.43"/>
<path stroke="rgb(250,60,60)" d="M351.79 424.1 L375.9 404.57 M371.39 405.45 L375.9 404.57 L374.11 408.81"/>
<path stroke="rgb(250,60,60)" d="M356.5 424.1 L385.59 407.3 M381 407.46 L385.59 407.3 L383.16 411.2"/>
<path stroke="rgb(230,175,45)" d="M361.2 424.1 L384.38 408.47 M379.81 408.95 L384.38 408.47 L382.22 412.53"/>
<path stroke="rgb(250,60,60)" d="M365.91 424.1 L388.72 401.29 M384.32 402.64 L388.72 401.29 L387.38 405.69"/>
<path stroke="rgb(240,130,40)" d="M370.62 424.1 L389.63 401.45 M385.36 403.17 L389.63 401.45 L388.67 405.95"/>
<path stroke="rgb(0,220,0)" d="M375.33 424.1 L388.43 408.48 M384.17 410.21 L388.43 408.48 L387.47 412.98"/>
<path stroke="rgb(0,220,0)" d="M380.04 424.1 L387.45 404.8 M383.97 407.82 L387.45 404.8 L388.01 409.36"/>
<path stroke="rgb(0,220,0)" d="M384.74 424.1 L384.74 402.7 M382.58 406.76 L384.74 402.7 L386.9 406.76"/>
<path stroke="rgb(240,130,40)" d="M389.45 424.1 L382.78 396.29 M381.62 400.74 L382.78 396.29 L385.82 399.74"/>
<path stroke="rgb(250,60,60)" d="M394.16 424.1 L387.5 392.77 M386.23 397.2 L387.5 392.77 L390.46 396.3"/>
<path stroke="rgb(240,130,40)" d="M398.87 424.1 L392.74 395.25 M391.47 399.67 L392.74 395.25 L395.69 398.77"/>
<path stroke="rgb(240,130,40)" d="M403.58 424.1 L397.04 395.8 M395.85 400.24 L397.04 395.8 L400.06 399.27"/>
<path stroke="rgb(230,175,45)" d="M408.28 424.1 L403.55 397.25 M402.13 401.63 L403.55 397.25 L406.38 400.88"/>
<path stroke="rgb(230,175,45)" d="M412.99 424.1 L410.58 396.5 M408.78 400.73 L410.58 396.5 L413.08 400.36"/>
<path stroke="rgb(250,60,60)" d="M417.7 424.1 L418.29 390.39 M416.06 394.42 L418.29 390.39 L420.38 394.49"/>
<path stroke="rgb(250,60,60)" d="M422.41 424.1 L428.05 390.39 M425.25 394.04 L428.05 390.39 L429.51 394.75"/>
<path stroke="rgb(250,60,60)" d="M427.12 424.1 L434.02 392.71 M431.04 396.21 L434.02 392.71 L435.26 397.14"/>
<path stroke="rgb(240,130,40)" d="M431.82 424.1 L448.82 400.1 M444.71 402.16 L448.82 400.1 L448.23 404.66"/>
<path stroke="rgb(240,0,130)" d="M436.53 424.1 L464.48 395.46 M460.1 396.86 L464.48 395.46 L463.19 399.88"/>
<path stroke="rgb(250,60,60)" d="M441.24 424.1 L463.08 396.15 M458.87 398.02 L463.08 396.15 L462.28 400.68"/>
<path stroke="rgb(250,60,60)" d="M445.95 424.1 L469.26 403.4 M464.79 404.48 L469.26 403.4 L467.66 407.71"/>
<path stroke="rgb(240,0,130)" d="M450.66 424.1 L487.45 401.55 M482.86 401.83 L487.45 401.55 L485.11 405.52"/>
<path stroke="rgb(240,0,130)" d="M455.36 424.1 L497.18 401.49 M492.58 401.52 L497.18 401.49 L494.64 405.32"/>
<path stroke="rgb(240,0,130)" d="M460.07 424.1 L506.69 406.58 M502.13 405.99 L506.69 406.58 L503.65 410.03"/>
<path stroke="rgb(240,0,130)" d="M464.78 424.1 L512.33 405.85 M507.76 405.29 L512.33 405.85 L509.31 409.32"/>
<path stroke="rgb(240,0,130)" d="M469.49 424.1 L516.1 402.36 M511.51 402.12 L516.1 402.36 L513.33 406.04"/>
<path stroke="rgb(240,0,130)" d="M474.2 424.1 L518.57 404.72 M513.98 404.36 L518.57 404.72 L515.71 408.32"/>
<path stroke="rgb(240,0,130)" d="M478.9 424.1 L524.29 407.58 M519.73 406.94 L524.29 407.58 L521.21 411"/>
<path stroke="rgb(240,0,130)" d="M483.61 424.1 L528.33 417.82 M524.01 416.24 L528.33 417.82 L524.61 420.52"/>
<path stroke="rgb(240,0,130)" d="M488.32 424.1 L525.81 420.82 M521.57 419.02 L525.81 420.82 L521.95 423.33"/>
<path stroke="rgb(230,220,50)" d="M493.03 424.1 L512.03 406.38 M507.59 407.57 L512.03 406.38 L510.53 410.73"/>
<path stroke="rgb(230,220,50)" d="M497.74 424.1 L516.08 407.58 M511.62 408.7 L516.08 407.58 L514.51 411.91"/>
<path stroke="rgb(0,220,0)" d="M502.44 424.1 L518.43 410.21 M513.94 411.24 L518.43 410.21 L516.78 414.5"/>
<path stroke="rgb(0,220,0)" d="M507.15 424.1 L521.27 411.83 M516.79 412.86 L521.27 411.83 L519.62 416.12"/>
<path stroke="rgb(0,210,140)" d="M511.86 424.1 L524.89 412.36 M520.43 413.48 L524.89 412.36 L523.32 416.69"/>
<path stroke="rgb(0,210,140)" d="M516.57 424.1 L527.76 413.06 M523.35 414.38 L527.76 413.06 L526.39 417.45"/>
<path stroke="rgb(0,210,140)" d="M521.28 424.1 L533.04 413.87 M528.56 414.91 L533.04 413.87 L531.39 418.17"/>
<path stroke="rgb(0,210,140)" d="M525.98 424.1 L536.37 413.72 M531.97 415.06 L536.37 413.72 L535.02 418.12"/>
<path stroke="rgb(0,200,200)" d="M530.69 424.1 L541.87 416.28 M537.3 416.84 L541.87 416.28 L539.78 420.37"/>
<path stroke="rgb(0,160,255)" d="M535.4 424.1 L544.72 418.94 M540.12 419.02 L544.72 418.94 L542.21 422.79"/>
<path stroke="rgb(30,60,255)" d="M540.11 424.1 L548.54 420.69 M543.97 420.21 L548.54 420.69 L545.58 424.22"/>
<path stroke="rgb(30,60,255)" d="M544.82 424.1 L553.26 421.52 M548.75 420.64 L553.26 421.52 L550.01 424.77"/>
<path stroke="rgb(0,160,255)" d="M549.52 424.1 L559.76 425.9 M556.13 423.07 L559.76 425.9 L555.38 427.33"/>
<path stroke="rgb(0,200,200)" d="M554.23 424.1 L565.94 432.3 M563.85 428.2 L565.94 432.3 L561.37 431.74"/>
<path stroke="rgb(0,220,0)" d="M558.94 424.1 L573.73 434.46 M571.64 430.36 L573.73 434.46 L569.17 433.9"/>
<path stroke="rgb(0,220,0)" d="M563.65 424.1 L577.98 435.3 M576.11 431.1 L577.98 435.3 L573.45 434.5"/>
<path stroke="rgb(0,220,0)" d="M568.36 424.1 L582.59 436.04 M580.86 431.78 L582.59 436.04 L578.09 435.09"/>
<path stroke="rgb(0,220,0)" d="M573.06 424.1 L587.06 436.71 M585.49 432.38 L587.06 436.71 L582.6 435.59"/>
<path stroke="rgb(0,220,0)" d="M577.77 424.1 L591.55 436.95 M590.05 432.6 L591.55 436.95 L587.11 435.76"/>
<path stroke="rgb(0,220,0)" d="M582.48 424.1 L596.26 437.88 M594.92 433.48 L596.26 437.88 L591.86 436.54"/>
<path stroke="rgb(0,220,0)" d="M587.19 424.1 L600.92 438.83 M599.73 434.38 L600.92 438.83 L596.57 437.33"/>
<path stroke="rgb(230,220,50)" d="M591.9 424.1 L605.2 444.58 M604.8 440 L605.2 444.58 L601.18 442.35"/>
<path stroke="rgb(0,220,0)" d="M596.6 424.1 L603.61 441.45 M604.09 436.87 L603.61 441.45 L600.09 438.49"/>
<path stroke="rgb(0,200,200)" d="M601.31 424.1 L605.33 436.46 M606.13 431.93 L605.33 436.46 L602.02 433.26"/>
<path stroke="rgb(0,160,255)" d="M606.02 424.1 L602.47 433.87 M605.88 430.79 L602.47 433.87 L601.82 429.31"/>
<path stroke="rgb(0,200,200)" d="M610.73 424.1 L598.62 420.17 M601.81 423.47 L598.62 420.17 L603.15 419.37"/>
<path stroke="rgb(0,210,140)" d="M615.44 424.1 L599.28 419.16 M602.54 422.41 L599.28 419.16 L603.8 418.28"/>
<path stroke="rgb(0,200,200)" d="M620.14 424.1 L608.1 419.23 M611.05 422.76 L608.1 419.23 L612.67 418.75"/>
<path stroke="rgb(0,160,255)" d="M624.85 424.1 L614.62 422.3 M618.24 425.13 L614.62 422.3 L618.99 420.87"/>
<path stroke="rgb(160,0,200)" d="M629.56 424.1 L623.96 424.1 M628.02 426.26 L623.96 424.1 L628.02 421.94"/>
<path stroke="rgb(160,0,200)" d="M634.27 424.1 L628.69 424.59 M632.92 426.39 L628.69 424.59 L632.55 422.08"/>
<path stroke="rgb(160,0,200)" d="M638.98 424.1 L633.46 425.07 M637.84 426.49 L633.46 425.07 L637.09 422.24"/>
<path stroke="rgb(160,0,200)" d="M643.68 424.1 L638.27 425.55 M642.76 426.58 L638.27 425.55 L641.64 422.41"/>
<path stroke="rgb(160,0,200)" d="M648.39 424.1 L643.13 426.02 M647.68 426.66 L643.13 426.02 L646.21 422.6"/>
<path stroke="rgb(160,0,200)" d="M653.1 424.1 L647.84 426.02 M652.39 426.66 L647.84 426.02 L650.92 422.6"/>
<path stroke="rgb(160,0,200)" d="M657.81 424.1 L653.22 427.31 M657.79 426.75 L653.22 427.31 L655.31 423.21"/>
<path stroke="rgb(110,0,220)" d="M662.52 424.1 L663.06 430.35 M664.86 426.11 L663.06 430.35 L660.56 426.49"/>
<path stroke="rgb(30,60,255)" d="M667.22 424.1 L672.23 431.26 M671.67 426.69 L672.23 431.26 L668.14 429.17"/>
<path stroke="rgb(30,60,255)" d="M671.93 424.1 L676.19 431.47 M676.03 426.87 L676.19 431.47 L672.29 429.03"/>
<path stroke="rgb(0,160,255)" d="M676.64 424.1 L682.75 433.88 M682.43 429.29 L682.75 433.88 L678.77 431.58"/>
<path stroke="rgb(0,220,0)" d="M681.35 424.1 L694.09 438.25 M692.98 433.79 L694.09 438.25 L689.77 436.68"/>
<path stroke="rgb(230,175,45)" d="M686.06 424.1 L706.03 443.73 M704.64 439.34 L706.03 443.73 L701.62 442.42"/>
<path stroke="rgb(230,175,45)" d="M690.76 424.1 L710.27 443.4 M708.9 439.01 L710.27 443.4 L705.86 442.08"/>
<path stroke="rgb(0,220,0)" d="M695.47 424.1 L705.49 443.76 M705.57 439.16 L705.49 443.76 L701.72 441.12"/>
<path stroke="rgb(0,220,0)" d="M700.18 424.1 L711.04 439.05 M710.4 434.5 L711.04 439.05 L706.91 437.03"/>
<path stroke="rgb(0,220,0)" d="M704.89 424.1 L715.75 439.05 M715.11 434.5 L715.75 439.05 L711.62 437.03"/>
<path stroke="rgb(0,220,0)" d="M709.6 424.1 L718.67 439.81 M718.51 435.22 L718.67 439.81 L714.77 437.38"/>
<path stroke="rgb(0,210,140)" d="M714.3 424.1 L719.74 439.04 M720.38 434.49 L719.74 439.04 L716.33 435.97"/>
<path stroke="rgb(0,210,140)" d="M719.01 424.1 L717.43 439.14 M720 435.32 L717.43 439.14 L715.71 434.87"/>
<path stroke="rgb(0,200,200)" d="M723.72 424.1 L719.45 436.49 M722.82 433.35 L719.45 436.49 L718.73 431.95"/>
<path stroke="rgb(0,200,200)" d="M728.43 424.1 L727.18 438.35 M729.69 434.49 L727.18 438.35 L725.38 434.11"/>
<path stroke="rgb(0,200,200)" d="M733.14 424.1 L731.89 438.35 M734.4 434.49 L731.89 438.35 L730.09 434.11"/>
<path stroke="rgb(0,200,200)" d="M737.84 424.1 L736.65 437.8 M739.15 433.94 L736.65 437.8 L734.85 433.56"/>
<path stroke="rgb(0,160,255)" d="M742.55 424.1 L741.95 435.63 M744.32 431.69 L741.95 435.63 L740 431.47"/>
<path stroke="rgb(0,160,255)" d="M747.26 424.1 L747.26 435.1 M749.42 431.04 L747.26 435.1 L745.1 431.04"/>
<path stroke="rgb(0,160,255)" d="M751.97 424.1 L751.01 435.06 M753.51 431.2 L751.01 435.06 L749.21 430.82"/>
<path stroke="rgb(0,160,255)" d="M756.68 424.1 L756.68 435.1 M758.84 431.04 L756.68 435.1 L754.52 431.04"/>
<path stroke="rgb(0,160,255)" d="M761.38 424.1 L762.34 435.06 M764.14 430.82 L762.34 435.06 L759.84 431.2"/>
<path stroke="rgb(0,160,255)" d="M766.09 424.1 L768.1 435.47 M769.52 431.1 L768.1 435.47 L765.27 431.85"/>
<path stroke="rgb(0,160,255)" d="M770.8 424.1 L774.54 435.61 M775.34 431.08 L774.54 435.61 L771.23 432.41"/>
<path stroke="rgb(0,210,140)" d="M775.51 424.1 L785.2 435.64 M784.24 431.15 L785.2 435.64 L780.93 433.92"/>
<path stroke="rgb(0,210,140)" d="M780.22 424.1 L790.38 437.59 M789.66 433.05 L790.38 437.59 L786.21 435.64"/>
<path stroke="rgb(0,220,0)" d="M784.92 424.1 L796.63 442.83 M796.31 438.24 L796.63 442.83 L792.64 440.53"/>
<path stroke="rgb(230,175,45)" d="M789.63 424.1 L802.73 447.74 M802.65 443.14 L802.73 447.74 L798.88 445.23"/>
<path stroke="rgb(230,175,45)" d="M794.34 424.1 L806.48 447.52 M806.53 442.92 L806.48 447.52 L802.69 444.9"/>
<path stroke="rgb(230,220,50)" d="M799.05 424.1 L810.44 447.45 M810.6 442.86 L810.44 447.45 L806.72 444.75"/>
<path stroke="rgb(230,175,45)" d="M803.76 424.1 L816.92 447.85 M816.84 443.25 L816.92 447.85 L813.06 445.34"/>
<path stroke="rgb(230,220,50)" d="M808.46 424.1 L817.54 447.75 M818.1 443.19 L817.54 447.75 L814.07 444.73"/>
<path stroke="rgb(0,220,0)" d="M813.17 424.1 L815.41 445.42 M817.14 441.15 L815.41 445.42 L812.84 441.61"/>
<path stroke="rgb(0,220,0)" d="M817.88 424.1 L818.23 443.97 M820.32 439.88 L818.23 443.97 L816 439.95"/>
<path stroke="rgb(160,230,50)" d="M822.59 424.1 L825.88 447.52 M827.45 443.19 L825.88 447.52 L823.17 443.79"/>
<path stroke="rgb(0,220,0)" d="M827.3 424.1 L808.98 430.77 M813.54 431.41 L808.98 430.77 L812.06 427.35"/>
<path stroke="rgb(0,210,140)" d="M832 424.1 L815.28 426.45 M819.6 428.02 L815.28 426.45 L819 423.75"/>
<path stroke="rgb(0,210,140)" d="M836.71 424.1 L820.48 423.53 M824.47 425.83 L820.48 423.53 L824.62 421.52"/>
<path stroke="rgb(0,200,200)" d="M841.42 424.1 L827.44 421.13 M830.96 424.09 L827.44 421.13 L831.86 419.86"/>
<path stroke="rgb(0,200,200)" d="M846.13 424.1 L833.77 420.09 M836.97 423.39 L833.77 420.09 L838.3 419.29"/>
<path stroke="rgb(0,200,200)" d="M850.84 424.1 L838.63 419.66 M841.71 423.07 L838.63 419.66 L843.18 419.02"/>
<path stroke="rgb(0,160,255)" d="M855.54 424.1 L846.37 419.22 M848.94 423.03 L846.37 419.22 L850.97 419.22"/>
<path stroke="rgb(0,160,255)" d="M860.25 424.1 L851.25 418.9 M853.69 422.8 L851.25 418.9 L855.85 419.06"/>
</g>
</g>
<line x1="188.9" y1="286.9" x2="861.8" y2="286.9" stroke="#939393" stroke-width="1.3" stroke-dasharray="2.6 6.928"/>
<line x1="188.9" y1="322.3" x2="861.8" y2="322.3" stroke="#939393" stroke-width="1.3" stroke-dasharray="2.6 6.928"/>
<line x1="188.9" y1="357.7" x2="861.8" y2="357.7" stroke="#939393" stroke-width="1.3" stroke-dasharray="2.6 6.928"/>
<line x1="188.9" y1="393.2" x2="861.8" y2="393.2" stroke="#939393" stroke-width="1.3" stroke-dasharray="2.6 6.928"/>
<line x1="182.4" y1="266.9" x2="182.4" y2="400.9" stroke="#939393" stroke-width="1.3" stroke-dasharray="2 5.35"/>
<line x1="295.4" y1="266.9" x2="295.4" y2="400.9" stroke="#939393" stroke-width="1.3" stroke-dasharray="2 5.35"/>
<line x1="408.4" y1="266.9" x2="408.4" y2="400.9" stroke="#939393" stroke-width="1.3" stroke-dasharray="2 5.35"/>
<line x1="521.4" y1="266.9" x2="521.4" y2="400.9" stroke="#939393" stroke-width="1.3" stroke-dasharray="2 5.35"/>
<line x1="634.4" y1="266.9" x2="634.4" y2="400.9" stroke="#939393" stroke-width="1.3" stroke-dasharray="2 5.35"/>
<line x1="747.4" y1="266.9" x2="747.4" y2="400.9" stroke="#939393" stroke-width="1.3" stroke-dasharray="2 5.35"/>
<line x1="860.4" y1="266.9" x2="860.4" y2="400.9" stroke="#939393" stroke-width="1.3" stroke-dasharray="2 5.35"/>
<polyline fill="none" stroke="rgb(0,220,0)" stroke-width="1.5" stroke-linejoin="round" stroke-linecap="round" points="182.2,495.6 187,503.6 191.8,508 196.4,506 201.2,500 205.8,493.2 210.6,492.4 215.2,493.6 220,495 224.6,494.6 229.4,493.6 234,493.6 238.8,494.4 243.4,497 248.2,498 253,495.6 257.6,492 262.4,481.6 267,488 271.8,494 276.4,504.6 281.2,508.6 285.8,503 290.6,497.6 295.2,505 300,516.6 304.6,517.6 309.4,520.6 314.2,521.6 318.8,503 323.6,494.6 328.2,503 333,505.4 337.6,504.6 342.4,505 347,500 351.8,499.4 356.4,495.6 361.2,497 366,502.4 370.6,500 375.4,493 380,498 384.8,514.4 389.4,518 394.2,524 398.8,530.4 403.6,525 408.2,518.4 413,513 417.6,512.4 422.4,501.6 427.2,500.6 431.8,494.6 436.6,492.6 441.2,492.6 446,492.4 450.6,497 455.4,498.4 460,500 464.8,502.6 469.4,508 474.2,511 479,502.6 483.6,493.6 488.4,501.4 493,500 497.8,503 502.4,508.6 507.2,507 511.8,506.6 516.6,508 521.2,509.6 526,512.6 530.6,514.4 535.4,515 540,510.6 544.8,503.4 549.6,500.4 554.2,500 559,499.2 563.6,499 568.4,500.6 573,503.4 577.8,503 582.4,501.6 587.2,496.6 592,492.4 596.6,492.4 601.4,491 606,493.6 610.8,495 615.4,498 620.2,498.6 624.8,498 629.6,496.6 634.2,495.6 639,497 643.6,498 648.4,498.6 653,498 657.8,496.6 662.4,495.4 667.2,495.6 672,497.4 676.6,497 681.4,497.4 686,494 690.8,494.6 695.4,493.4 700.2,494.6 705,495.6 709.6,495.4 714.4,492.6 719,497.6 723.8,503.6 728.4,502.4 733.2,503 737.8,504.4 742.6,504.6 747.2,505 752,506 756.6,507.6 761.4,509 766,509.4 770.8,508.6 775.6,506 780.2,504 785,504 789.6,502.6 794.4,502.6 799,500.6 803.8,499.4 808.4,496 813.2,500 818,503.4 822.6,503 827.4,501.6 832,504.6 836.8,510 841.4,510.6 846.2,513.4 850.8,515.4 855.6,517.4 860.2,520" />
<polyline fill="none" stroke="rgb(230,175,45)" stroke-width="1.4" stroke-linejoin="round" stroke-linecap="round" points="182.2,492.4 187,495.2 191.8,494.6 196.4,495.6 201.2,476 205.8,460 210.6,447 215.2,436 220,427 224.6,421 229.4,417.6 234,416.4 238.8,416.4 243.4,419 248.2,424 253,431 257.6,439 262.4,442 267,476.6 271.8,480 276.4,481.6 281.2,483 285.8,484 290.6,484.4 295.2,485.6 300,487.2 304.6,488 309.4,488.6 314.2,476 318.8,458 323.6,439 328.2,429 333,420 337.6,414 342.4,411 347,418.4 351.8,419 356.4,431 361.2,433 366,431.6 370.6,439 375.4,453 380,470 384.8,482.4 389.4,475.6 394.2,473.6 398.8,468.6 403.6,469 408.2,470.6 413,470 417.6,468.6 422.4,474 427.2,478.4 431.8,467 436.6,463 441.2,475.6 446,448 450.6,434 455.4,431.4 460,430.6 464.8,437 469.4,440 474.2,444 479,451 483.6,462 488.4,476 493,497.6 497.8,499.6 502.4,505.4 507.2,509 511.8,511 516.6,512.6 521.2,514 526,516.4 530.6,519 535.4,521.4 540,500 544.8,486 549.6,471 554.2,460 559,451 563.6,443 568.4,437 573,435 577.8,435.6 582.4,451.6 587.2,459 592,466 596.6,478.6 601.4,481 606,496.4 610.8,501 615.4,506 620.2,501 624.8,495.4 629.6,494.6 634.2,494 639,498 643.6,504 648.4,499 653,494 657.8,491.6 662.4,489.4 667.2,487.4 672,481.6 676.6,475.6 681.4,472.4 686,479 690.8,483.4 695.4,482.6 700.2,477.4 705,479.4 709.6,484 714.4,489.6 719,494.6 723.8,507.4 728.4,504 733.2,506 737.8,506.4 742.6,506 747.2,504.6 752,504.6 756.6,506 761.4,507 766,504.6 770.8,498 775.6,487 780.2,475 785,468 789.6,453.6 794.4,449 799,450 803.8,450.4 808.4,458 813.2,464.4 818,466 822.6,473.6 827.4,482 832,500 836.8,509 841.4,511 846.2,516 850.8,519.4 855.6,521.4 860.2,523" />
<polyline fill="none" stroke="rgb(250,60,60)" stroke-width="1.4" stroke-linejoin="round" stroke-linecap="round" points="182.2,482.4 187,465.6 191.8,464.4 196.4,465.6 201.2,464 205.8,461 210.6,456 215.2,451 220,446.4 224.6,443 229.4,440.6 234,439 238.8,438 243.4,437.2 248.2,437 253,438 257.6,440 262.4,442.6 267,449 271.8,451.6 276.4,452 281.2,452.4 285.8,453.2 290.6,455.6 295.2,456 300,454.4 304.6,454 309.4,455 314.2,454.6 318.8,453 323.6,443 328.2,437 333,432 337.6,429 342.4,426.6 347,427.4 351.8,428.4 356.4,432 361.2,433 366,432 370.6,436.4 375.4,445 380,450 384.8,455 389.4,460 394.2,459.6 398.8,459.2 403.6,461 408.2,461.4 413,461.8 417.6,461.6 422.4,466 427.2,470.4 431.8,467 436.6,464.6 441.2,472 446,462 450.6,455 455.4,454 460,454 464.8,456 469.4,458 474.2,459 479,463 483.6,469.6 488.4,475.6 493,486.4 497.8,489 502.4,489.6 507.2,489.4 511.8,491 516.6,492.4 521.2,493.4 526,495 530.6,497 535.4,499.4 540,499 544.8,494 549.6,489 554.2,484 559,480 563.6,475.6 568.4,470 573,466 577.8,464.4 582.4,467 587.2,470.6 592,473.6 596.6,479 601.4,481 606,485 610.8,488 615.4,491 620.2,491 624.8,491 629.6,492.4 634.2,493 639,493.6 643.6,494 648.4,494 653,493.6 657.8,493 662.4,491.6 667.2,491.4 672,490 676.6,488 681.4,487.4 686,489.4 690.8,493 695.4,490.6 700.2,487.4 705,486.6 709.6,488.6 714.4,491 719,494 723.8,498 728.4,498.6 733.2,501 737.8,503 742.6,504 747.2,505 752,505.6 756.6,507 761.4,508 766,508.6 770.8,507 775.6,502.6 780.2,497.6 785,493 789.6,486 794.4,480.6 799,478 803.8,476 808.4,477 813.2,477.6 818,476 822.6,478 827.4,481.4 832,489.6 836.8,495 841.4,499 846.2,500 850.8,501.6 855.6,503.6 860.2,504.6" />
<line x1="188.9" y1="530.9" x2="861.8" y2="530.9" stroke="#939393" stroke-width="1.3" stroke-dasharray="2.6 6.928"/>
<line x1="188.9" y1="519.98" x2="861.8" y2="519.98" stroke="#939393" stroke-width="1.3" stroke-dasharray="2.6 6.928"/>
<line x1="188.9" y1="509.06" x2="861.8" y2="509.06" stroke="#939393" stroke-width="1.3" stroke-dasharray="2.6 6.928"/>
<line x1="188.9" y1="498.14" x2="861.8" y2="498.14" stroke="#939393" stroke-width="1.3" stroke-dasharray="2.6 6.928"/>
<line x1="188.9" y1="487.22" x2="861.8" y2="487.22" stroke="#939393" stroke-width="1.3" stroke-dasharray="2.6 6.928"/>
<line x1="188.9" y1="476.3" x2="861.8" y2="476.3" stroke="#939393" stroke-width="1.3" stroke-dasharray="2.6 6.928"/>
<line x1="188.9" y1="465.38" x2="861.8" y2="465.38" stroke="#939393" stroke-width="1.3" stroke-dasharray="2.6 6.928"/>
<line x1="188.9" y1="454.46" x2="861.8" y2="454.46" stroke="#939393" stroke-width="1.3" stroke-dasharray="2.6 6.928"/>
<line x1="188.9" y1="443.54" x2="861.8" y2="443.54" stroke="#939393" stroke-width="1.3" stroke-dasharray="2.6 6.928"/>
<line x1="188.9" y1="432.62" x2="861.8" y2="432.62" stroke="#939393" stroke-width="1.3" stroke-dasharray="2.6 6.928"/>
<line x1="188.9" y1="421.7" x2="861.8" y2="421.7" stroke="#939393" stroke-width="1.3" stroke-dasharray="2.6 6.928"/>
<line x1="188.9" y1="410.78" x2="861.8" y2="410.78" stroke="#939393" stroke-width="1.3" stroke-dasharray="2.6 6.928"/>
<line x1="182.4" y1="405.9" x2="182.4" y2="540" stroke="#939393" stroke-width="1.3" stroke-dasharray="2 5.35"/>
<line x1="295.4" y1="405.9" x2="295.4" y2="540" stroke="#939393" stroke-width="1.3" stroke-dasharray="2 5.35"/>
<line x1="408.4" y1="405.9" x2="408.4" y2="540" stroke="#939393" stroke-width="1.3" stroke-dasharray="2 5.35"/>
<line x1="521.4" y1="405.9" x2="521.4" y2="540" stroke="#939393" stroke-width="1.3" stroke-dasharray="2 5.35"/>
<line x1="634.4" y1="405.9" x2="634.4" y2="540" stroke="#939393" stroke-width="1.3" stroke-dasharray="2 5.35"/>
<line x1="747.4" y1="405.9" x2="747.4" y2="540" stroke="#939393" stroke-width="1.3" stroke-dasharray="2 5.35"/>
<line x1="860.4" y1="405.9" x2="860.4" y2="540" stroke="#939393" stroke-width="1.3" stroke-dasharray="2 5.35"/>
<line x1="180.2" y1="667.5" x2="862.8" y2="667.5" stroke="rgb(0,160,255)" stroke-width="1.2"/>
<rect x="179.55" y="666.9" width="1.3" height="1.2" fill="rgb(240,0,130)"/>
<rect x="184.29" y="666.9" width="1.3" height="1.2" fill="rgb(240,0,130)"/>
<rect x="189.03" y="666.9" width="1.3" height="1.2" fill="rgb(240,0,130)"/>
<rect x="193.77" y="666.9" width="1.3" height="1.2" fill="rgb(240,0,130)"/>
<rect x="198.51" y="666.9" width="1.3" height="1.2" fill="rgb(240,0,130)"/>
<rect x="203.25" y="666.9" width="1.3" height="1.2" fill="rgb(240,0,130)"/>
<rect x="207.99" y="666.9" width="1.3" height="1.2" fill="rgb(240,0,130)"/>
<rect x="212.73" y="666.9" width="1.3" height="1.2" fill="rgb(240,0,130)"/>
<rect x="217.47" y="666.9" width="1.3" height="1.2" fill="rgb(240,0,130)"/>
<rect x="222.21" y="666.9" width="1.3" height="1.2" fill="rgb(240,0,130)"/>
<rect x="226.95" y="666.9" width="1.3" height="1.2" fill="rgb(240,0,130)"/>
<rect x="231.69" y="666.9" width="1.3" height="1.2" fill="rgb(240,0,130)"/>
<rect x="236.43" y="666.9" width="1.3" height="1.2" fill="rgb(240,0,130)"/>
<rect x="241.17" y="666.9" width="1.3" height="1.2" fill="rgb(240,0,130)"/>
<rect x="245.91" y="666.9" width="1.3" height="1.2" fill="rgb(240,0,130)"/>
<rect x="255.39" y="666.9" width="1.3" height="1.2" fill="rgb(240,0,130)"/>
<rect x="260.13" y="666.9" width="1.3" height="1.2" fill="rgb(240,0,130)"/>
<rect x="264.87" y="666.9" width="1.3" height="1.2" fill="rgb(240,0,130)"/>
<rect x="269.61" y="666.9" width="1.3" height="1.2" fill="rgb(240,0,130)"/>
<rect x="274.35" y="666.9" width="1.3" height="1.2" fill="rgb(240,0,130)"/>
<rect x="279.09" y="666.9" width="1.3" height="1.2" fill="rgb(240,0,130)"/>
<rect x="283.83" y="666.9" width="1.3" height="1.2" fill="rgb(240,0,130)"/>
<rect x="288.57" y="666.9" width="1.3" height="1.2" fill="rgb(240,0,130)"/>
<rect x="293.31" y="666.9" width="1.3" height="1.2" fill="rgb(240,0,130)"/>
<rect x="298.05" y="666.9" width="1.3" height="1.2" fill="rgb(240,0,130)"/>
<rect x="302.79" y="666.9" width="1.3" height="1.2" fill="rgb(240,0,130)"/>
<rect x="307.53" y="666.9" width="1.3" height="1.2" fill="rgb(240,0,130)"/>
<rect x="312.27" y="666.9" width="1.3" height="1.2" fill="rgb(240,0,130)"/>
<rect x="317.01" y="666.9" width="1.3" height="1.2" fill="rgb(240,0,130)"/>
<rect x="321.75" y="666.9" width="1.3" height="1.2" fill="rgb(240,0,130)"/>
<rect x="335.97" y="666.9" width="1.3" height="1.2" fill="rgb(240,0,130)"/>
<rect x="340.71" y="666.9" width="1.3" height="1.2" fill="rgb(240,0,130)"/>
<rect x="369.15" y="666.9" width="1.3" height="1.2" fill="rgb(240,0,130)"/>
<rect x="383.37" y="666.9" width="1.3" height="1.2" fill="rgb(240,0,130)"/>
<rect x="449.73" y="666.9" width="1.3" height="1.2" fill="rgb(240,0,130)"/>
<rect x="454.47" y="666.9" width="1.3" height="1.2" fill="rgb(240,0,130)"/>
<rect x="459.21" y="666.9" width="1.3" height="1.2" fill="rgb(240,0,130)"/>
<rect x="463.95" y="666.9" width="1.3" height="1.2" fill="rgb(240,0,130)"/>
<rect x="473.43" y="666.9" width="1.3" height="1.2" fill="rgb(240,0,130)"/>
<rect x="478.17" y="666.9" width="1.3" height="1.2" fill="rgb(240,0,130)"/>
<rect x="482.91" y="666.9" width="1.3" height="1.2" fill="rgb(240,0,130)"/>
<rect x="487.65" y="666.9" width="1.3" height="1.2" fill="rgb(240,0,130)"/>
<rect x="492.39" y="666.9" width="1.3" height="1.2" fill="rgb(240,0,130)"/>
<rect x="497.13" y="666.9" width="1.3" height="1.2" fill="rgb(240,0,130)"/>
<rect x="501.87" y="666.9" width="1.3" height="1.2" fill="rgb(240,0,130)"/>
<rect x="506.61" y="666.9" width="1.3" height="1.2" fill="rgb(240,0,130)"/>
<rect x="511.35" y="666.9" width="1.3" height="1.2" fill="rgb(240,0,130)"/>
<rect x="516.09" y="666.9" width="1.3" height="1.2" fill="rgb(240,0,130)"/>
<rect x="520.83" y="666.9" width="1.3" height="1.2" fill="rgb(240,0,130)"/>
<rect x="525.57" y="666.9" width="1.3" height="1.2" fill="rgb(240,0,130)"/>
<rect x="530.31" y="666.9" width="1.3" height="1.2" fill="rgb(240,0,130)"/>
<rect x="535.05" y="666.9" width="1.3" height="1.2" fill="rgb(240,0,130)"/>
<rect x="539.79" y="666.9" width="1.3" height="1.2" fill="rgb(240,0,130)"/>
<rect x="544.53" y="666.9" width="1.3" height="1.2" fill="rgb(240,0,130)"/>
<rect x="549.27" y="666.9" width="1.3" height="1.2" fill="rgb(240,0,130)"/>
<rect x="554.01" y="666.9" width="1.3" height="1.2" fill="rgb(240,0,130)"/>
<rect x="558.75" y="666.9" width="1.3" height="1.2" fill="rgb(240,0,130)"/>
<rect x="563.49" y="666.9" width="1.3" height="1.2" fill="rgb(240,0,130)"/>
<rect x="568.23" y="666.9" width="1.3" height="1.2" fill="rgb(240,0,130)"/>
<rect x="572.97" y="666.9" width="1.3" height="1.2" fill="rgb(240,0,130)"/>
<rect x="577.71" y="666.9" width="1.3" height="1.2" fill="rgb(240,0,130)"/>
<rect x="728.94" y="666.9" width="2.2" height="1.2" fill="rgb(230,175,45)"/>
<rect x="733.68" y="666.9" width="2.2" height="1.2" fill="rgb(230,175,45)"/>
<rect x="747.9" y="666.9" width="2.2" height="1.2" fill="rgb(230,175,45)"/>
<rect x="752.64" y="666.9" width="2.2" height="1.2" fill="rgb(230,175,45)"/>
<rect x="785.82" y="666.9" width="2.2" height="1.2" fill="rgb(230,175,45)"/>
<rect x="790.56" y="666.9" width="2.2" height="1.2" fill="rgb(230,175,45)"/>
<rect x="804.78" y="666.9" width="2.2" height="1.2" fill="rgb(230,175,45)"/>
<rect x="809.52" y="666.9" width="2.2" height="1.2" fill="rgb(230,175,45)"/>
<rect x="819" y="666.9" width="2.2" height="1.2" fill="rgb(230,175,45)"/>
<rect x="823.74" y="666.9" width="2.2" height="1.2" fill="rgb(230,175,45)"/>
<rect x="828.48" y="666.9" width="2.2" height="1.2" fill="rgb(230,175,45)"/>
<rect x="837.96" y="666.9" width="2.2" height="1.2" fill="rgb(230,175,45)"/>
<rect x="842.7" y="666.9" width="2.2" height="1.2" fill="rgb(230,175,45)"/>
<rect x="856.92" y="666.9" width="2.2" height="1.2" fill="rgb(230,175,45)"/>
<rect x="861.66" y="666.9" width="2.2" height="1.2" fill="rgb(230,175,45)"/>
<rect x="344.3" y="638.55" width="3.6" height="28.95" fill="rgb(0,160,255)"/>
<rect x="349.04" y="625.81" width="3.6" height="41.69" fill="rgb(0,160,255)"/>
<rect x="353.78" y="642.02" width="3.6" height="25.48" fill="rgb(0,160,255)"/>
<rect x="358.52" y="629.29" width="3.6" height="38.21" fill="rgb(0,160,255)"/>
<rect x="363.26" y="657.08" width="3.6" height="10.42" fill="rgb(0,160,255)"/>
<rect x="434.36" y="579.49" width="3.6" height="88.01" fill="rgb(0,160,255)"/>
<rect x="439.1" y="551.7" width="3.6" height="115.8" fill="rgb(0,160,255)"/>
<rect x="250.35" y="665.18" width="1.9" height="2.32" fill="rgb(230,175,45)"/>
<rect x="326.19" y="551.7" width="1.9" height="115.8" fill="rgb(230,175,45)"/>
<rect x="330.93" y="638.55" width="1.9" height="28.95" fill="rgb(230,175,45)"/>
<rect x="345.15" y="638.55" width="1.9" height="28.95" fill="rgb(230,175,45)"/>
<rect x="349.89" y="606.13" width="1.9" height="61.37" fill="rgb(230,175,45)"/>
<rect x="354.63" y="609.02" width="1.9" height="58.48" fill="rgb(230,175,45)"/>
<rect x="359.37" y="611.92" width="1.9" height="55.58" fill="rgb(230,175,45)"/>
<rect x="364.11" y="651.29" width="1.9" height="16.21" fill="rgb(230,175,45)"/>
<rect x="373.59" y="551.7" width="1.9" height="115.8" fill="rgb(230,175,45)"/>
<rect x="378.33" y="551.7" width="1.9" height="115.8" fill="rgb(230,175,45)"/>
<rect x="387.81" y="551.7" width="1.9" height="115.8" fill="rgb(230,175,45)"/>
<rect x="392.55" y="638.55" width="1.9" height="28.95" fill="rgb(230,175,45)"/>
<rect x="397.29" y="551.7" width="1.9" height="115.8" fill="rgb(230,175,45)"/>
<rect x="402.03" y="551.7" width="1.9" height="115.8" fill="rgb(230,175,45)"/>
<rect x="406.77" y="551.7" width="1.9" height="115.8" fill="rgb(230,175,45)"/>
<rect x="411.51" y="551.7" width="1.9" height="115.8" fill="rgb(230,175,45)"/>
<rect x="416.25" y="557.49" width="1.9" height="110.01" fill="rgb(230,175,45)"/>
<rect x="420.99" y="579.84" width="1.9" height="87.66" fill="rgb(230,175,45)"/>
<rect x="425.73" y="659.39" width="1.9" height="8.11" fill="rgb(230,175,45)"/>
<rect x="430.47" y="636.23" width="1.9" height="31.27" fill="rgb(230,175,45)"/>
<rect x="435.21" y="551.7" width="1.9" height="115.8" fill="rgb(230,175,45)"/>
<rect x="439.95" y="551.7" width="1.9" height="115.8" fill="rgb(230,175,45)"/>
<rect x="444.69" y="600.92" width="1.9" height="66.58" fill="rgb(230,175,45)"/>
<rect x="468.39" y="658.24" width="1.9" height="9.26" fill="rgb(230,175,45)"/>
<rect x="582.15" y="653.6" width="1.9" height="13.9" fill="rgb(230,175,45)"/>
<rect x="586.89" y="639.13" width="1.9" height="28.37" fill="rgb(230,175,45)"/>
<rect x="591.63" y="625.81" width="1.9" height="41.69" fill="rgb(230,175,45)"/>
<rect x="596.37" y="579.49" width="1.9" height="88.01" fill="rgb(230,175,45)"/>
<rect x="601.11" y="614.23" width="1.9" height="53.27" fill="rgb(230,175,45)"/>
<rect x="610.59" y="644.34" width="1.9" height="23.16" fill="rgb(230,175,45)"/>
<rect x="620.07" y="551.7" width="1.9" height="115.8" fill="rgb(230,175,45)"/>
<rect x="624.81" y="551.7" width="1.9" height="115.8" fill="rgb(230,175,45)"/>
<rect x="629.55" y="551.7" width="1.9" height="115.8" fill="rgb(230,175,45)"/>
<rect x="634.29" y="551.7" width="1.9" height="115.8" fill="rgb(230,175,45)"/>
<rect x="639.03" y="558.65" width="1.9" height="108.85" fill="rgb(230,175,45)"/>
<rect x="643.77" y="551.7" width="1.9" height="115.8" fill="rgb(230,175,45)"/>
<rect x="648.51" y="551.7" width="1.9" height="115.8" fill="rgb(230,175,45)"/>
<rect x="653.25" y="551.7" width="1.9" height="115.8" fill="rgb(230,175,45)"/>
<rect x="657.99" y="551.7" width="1.9" height="115.8" fill="rgb(230,175,45)"/>
<rect x="662.73" y="551.7" width="1.9" height="115.8" fill="rgb(230,175,45)"/>
<rect x="667.47" y="551.7" width="1.9" height="115.8" fill="rgb(230,175,45)"/>
<rect x="672.21" y="551.7" width="1.9" height="115.8" fill="rgb(230,175,45)"/>
<rect x="676.95" y="551.7" width="1.9" height="115.8" fill="rgb(230,175,45)"/>
<rect x="681.69" y="551.7" width="1.9" height="115.8" fill="rgb(230,175,45)"/>
<rect x="686.43" y="551.7" width="1.9" height="115.8" fill="rgb(230,175,45)"/>
<rect x="691.17" y="551.7" width="1.9" height="115.8" fill="rgb(230,175,45)"/>
<rect x="695.91" y="551.7" width="1.9" height="115.8" fill="rgb(230,175,45)"/>
<rect x="700.65" y="614.23" width="1.9" height="53.27" fill="rgb(230,175,45)"/>
<rect x="705.39" y="606.13" width="1.9" height="61.37" fill="rgb(230,175,45)"/>
<rect x="710.13" y="595.7" width="1.9" height="71.8" fill="rgb(230,175,45)"/>
<rect x="714.87" y="577.18" width="1.9" height="90.32" fill="rgb(230,175,45)"/>
<rect x="719.61" y="581.81" width="1.9" height="85.69" fill="rgb(230,175,45)"/>
<rect x="724.35" y="655.23" width="1.9" height="12.27" fill="rgb(230,175,45)"/>
<rect x="757.53" y="626.97" width="1.9" height="40.53" fill="rgb(230,175,45)"/>
<rect x="762.27" y="551.7" width="1.9" height="115.8" fill="rgb(230,175,45)"/>
<rect x="767.01" y="551.7" width="1.9" height="115.8" fill="rgb(230,175,45)"/>
<rect x="771.75" y="551.7" width="1.9" height="115.8" fill="rgb(230,175,45)"/>
<rect x="776.49" y="571.39" width="1.9" height="96.11" fill="rgb(230,175,45)"/>
<rect x="350.34" y="647.24" width="1" height="20.26" fill="rgb(240,0,130)"/>
<rect x="355.08" y="637.39" width="1" height="30.11" fill="rgb(240,0,130)"/>
<rect x="464.1" y="664.03" width="1" height="3.47" fill="rgb(240,0,130)"/>
<rect x="468.84" y="662.29" width="1" height="5.21" fill="rgb(240,0,130)"/>
<rect x="483.06" y="642.02" width="1" height="25.48" fill="rgb(240,0,130)"/>
<rect x="554.16" y="661.25" width="1" height="6.25" fill="rgb(240,0,130)"/>
<rect x="558.9" y="661.25" width="1" height="6.25" fill="rgb(240,0,130)"/>
<rect x="573.12" y="665.18" width="1" height="2.32" fill="rgb(240,0,130)"/>
<rect x="577.86" y="665.18" width="1" height="2.32" fill="rgb(240,0,130)"/>
<rect x="592.08" y="613.07" width="1" height="54.43" fill="rgb(240,0,130)"/>
<rect x="596.82" y="579.84" width="1" height="87.66" fill="rgb(240,0,130)"/>
<rect x="611.04" y="644.34" width="1" height="23.16" fill="rgb(240,0,130)"/>
<rect x="630" y="629.29" width="1" height="38.21" fill="rgb(240,0,130)"/>
<rect x="634.74" y="626.97" width="1" height="40.53" fill="rgb(240,0,130)"/>
<rect x="648.96" y="648.16" width="1" height="19.34" fill="rgb(240,0,130)"/>
<rect x="667.92" y="569.07" width="1" height="98.43" fill="rgb(240,0,130)"/>
<rect x="682.14" y="593.39" width="1" height="74.11" fill="rgb(240,0,130)"/>
<rect x="686.88" y="569.07" width="1" height="98.43" fill="rgb(240,0,130)"/>
<rect x="701.1" y="587.6" width="1" height="79.9" fill="rgb(240,0,130)"/>
<rect x="705.84" y="596.86" width="1" height="70.64" fill="rgb(240,0,130)"/>
<rect x="720.06" y="574.86" width="1" height="92.64" fill="rgb(240,0,130)"/>
<rect x="724.8" y="618.86" width="1" height="48.64" fill="rgb(240,0,130)"/>
<rect x="739.02" y="584.12" width="1" height="83.38" fill="rgb(240,0,130)"/>
<rect x="743.76" y="559.81" width="1" height="107.69" fill="rgb(240,0,130)"/>
<rect x="757.98" y="551.7" width="1" height="115.8" fill="rgb(240,0,130)"/>
<rect x="762.72" y="551.7" width="1" height="115.8" fill="rgb(240,0,130)"/>
<rect x="776.94" y="564.44" width="1" height="103.06" fill="rgb(240,0,130)"/>
<rect x="781.68" y="567.22" width="1" height="100.28" fill="rgb(240,0,130)"/>
<rect x="795.9" y="654.3" width="1" height="13.2" fill="rgb(240,0,130)"/>
<rect x="800.64" y="635.08" width="1" height="32.42" fill="rgb(240,0,130)"/>
<rect x="814.86" y="601.49" width="1" height="66.01" fill="rgb(240,0,130)"/>
<rect x="833.82" y="623.5" width="1" height="44" fill="rgb(240,0,130)"/>
<rect x="848.04" y="661.25" width="1" height="6.25" fill="rgb(240,0,130)"/>
<rect x="852.78" y="659.39" width="1" height="8.11" fill="rgb(240,0,130)"/>
<line x1="188.9" y1="551.7" x2="861.8" y2="551.7" stroke="#939393" stroke-width="1.3" stroke-dasharray="2.6 6.928"/>
<line x1="188.9" y1="580.6" x2="861.8" y2="580.6" stroke="#939393" stroke-width="1.3" stroke-dasharray="2.6 6.928"/>
<line x1="188.9" y1="609.5" x2="861.8" y2="609.5" stroke="#939393" stroke-width="1.3" stroke-dasharray="2.6 6.928"/>
<line x1="188.9" y1="638.4" x2="861.8" y2="638.4" stroke="#939393" stroke-width="1.3" stroke-dasharray="2.6 6.928"/>
<line x1="188.9" y1="667.5" x2="861.8" y2="667.5" stroke="#939393" stroke-width="1.3" stroke-dasharray="2.6 6.928"/>
<rect x="586.04" y="792.02" width="3.6" height="25.98" fill="rgb(30,205,30)"/>
<rect x="590.78" y="791.02" width="3.6" height="26.98" fill="rgb(30,205,30)"/>
<rect x="595.52" y="763.04" width="3.6" height="54.96" fill="rgb(30,205,30)"/>
<rect x="600.26" y="792.02" width="3.6" height="25.98" fill="rgb(30,205,30)"/>
<rect x="605" y="813" width="3.6" height="5" fill="rgb(30,205,30)"/>
<rect x="609.74" y="812" width="3.6" height="6" fill="rgb(30,205,30)"/>
<rect x="619.22" y="814" width="3.6" height="4" fill="rgb(30,205,30)"/>
<rect x="623.96" y="814" width="3.6" height="4" fill="rgb(30,205,30)"/>
<rect x="628.7" y="692.09" width="3.6" height="125.91" fill="rgb(30,205,30)"/>
<rect x="633.44" y="695.09" width="3.6" height="122.91" fill="rgb(30,205,30)"/>
<rect x="638.18" y="722.07" width="3.6" height="95.93" fill="rgb(30,205,30)"/>
<rect x="642.92" y="805.01" width="3.6" height="12.99" fill="rgb(30,205,30)"/>
<rect x="647.66" y="806.01" width="3.6" height="11.99" fill="rgb(30,205,30)"/>
<rect x="652.4" y="736.06" width="3.6" height="81.94" fill="rgb(30,205,30)"/>
<rect x="657.14" y="768.04" width="3.6" height="49.96" fill="rgb(30,205,30)"/>
<rect x="661.88" y="739.06" width="3.6" height="78.94" fill="rgb(30,205,30)"/>
<rect x="666.62" y="723.07" width="3.6" height="94.93" fill="rgb(30,205,30)"/>
<rect x="671.36" y="793.02" width="3.6" height="24.98" fill="rgb(30,205,30)"/>
<rect x="676.1" y="808.01" width="3.6" height="9.99" fill="rgb(30,205,30)"/>
<rect x="680.84" y="800.01" width="3.6" height="17.99" fill="rgb(30,205,30)"/>
<rect x="685.58" y="785.02" width="3.6" height="32.98" fill="rgb(30,205,30)"/>
<rect x="690.32" y="796.02" width="3.6" height="21.98" fill="rgb(30,205,30)"/>
<rect x="695.06" y="785.02" width="3.6" height="32.98" fill="rgb(30,205,30)"/>
<rect x="699.8" y="799.01" width="3.6" height="18.99" fill="rgb(30,205,30)"/>
<rect x="704.54" y="740.06" width="3.6" height="77.94" fill="rgb(30,205,30)"/>
<rect x="709.28" y="746.05" width="3.6" height="71.95" fill="rgb(30,205,30)"/>
<rect x="714.02" y="686.09" width="3.6" height="131.91" fill="rgb(30,205,30)"/>
<rect x="718.76" y="742.05" width="3.6" height="75.95" fill="rgb(30,205,30)"/>
<rect x="723.5" y="813" width="3.6" height="5" fill="rgb(30,205,30)"/>
<rect x="344.3" y="815.58" width="3.6" height="2.42" fill="rgb(30,205,30)"/>
<rect x="349.04" y="810.11" width="3.6" height="7.89" fill="rgb(30,205,30)"/>
<rect x="353.78" y="798.29" width="3.6" height="19.71" fill="rgb(30,205,30)"/>
<rect x="358.52" y="810.11" width="3.6" height="7.89" fill="rgb(30,205,30)"/>
<rect x="420.14" y="813.52" width="3.6" height="4.48" fill="rgb(30,205,30)"/>
<rect x="808.82" y="808.59" width="3.6" height="9.41" fill="rgb(30,205,30)"/>
<rect x="813.56" y="814.42" width="3.6" height="3.58" fill="rgb(30,205,30)"/>
<rect x="582.15" y="817" width="1.9" height="1" fill="rgb(250,60,60)"/>
<rect x="586.89" y="792.02" width="1.9" height="25.98" fill="rgb(250,60,60)"/>
<rect x="591.63" y="791.62" width="1.9" height="26.38" fill="rgb(250,60,60)"/>
<rect x="596.37" y="763.44" width="1.9" height="54.56" fill="rgb(250,60,60)"/>
<rect x="601.11" y="792.42" width="1.9" height="25.58" fill="rgb(250,60,60)"/>
<rect x="605.85" y="813" width="1.9" height="5" fill="rgb(250,60,60)"/>
<rect x="610.59" y="814" width="1.9" height="4" fill="rgb(250,60,60)"/>
<rect x="620.07" y="814" width="1.9" height="4" fill="rgb(250,60,60)"/>
<rect x="629.55" y="797.02" width="1.9" height="20.98" fill="rgb(250,60,60)"/>
<rect x="634.29" y="796.02" width="1.9" height="21.98" fill="rgb(250,60,60)"/>
<rect x="639.03" y="787.02" width="1.9" height="30.98" fill="rgb(250,60,60)"/>
<rect x="643.77" y="806.01" width="1.9" height="11.99" fill="rgb(250,60,60)"/>
<rect x="648.51" y="807.01" width="1.9" height="10.99" fill="rgb(250,60,60)"/>
<rect x="653.25" y="754.05" width="1.9" height="63.95" fill="rgb(250,60,60)"/>
<rect x="657.99" y="802.01" width="1.9" height="15.99" fill="rgb(250,60,60)"/>
<rect x="662.73" y="739.66" width="1.9" height="78.34" fill="rgb(250,60,60)"/>
<rect x="667.47" y="723.67" width="1.9" height="94.33" fill="rgb(250,60,60)"/>
<rect x="672.21" y="794.02" width="1.9" height="23.98" fill="rgb(250,60,60)"/>
<rect x="676.95" y="808.01" width="1.9" height="9.99" fill="rgb(250,60,60)"/>
<rect x="681.69" y="801.01" width="1.9" height="16.99" fill="rgb(250,60,60)"/>
<rect x="686.43" y="785.62" width="1.9" height="32.38" fill="rgb(250,60,60)"/>
<rect x="691.17" y="796.02" width="1.9" height="21.98" fill="rgb(250,60,60)"/>
<rect x="695.91" y="785.62" width="1.9" height="32.38" fill="rgb(250,60,60)"/>
<rect x="700.65" y="799.61" width="1.9" height="18.39" fill="rgb(250,60,60)"/>
<rect x="705.39" y="741.06" width="1.9" height="76.94" fill="rgb(250,60,60)"/>
<rect x="710.13" y="761.04" width="1.9" height="56.96" fill="rgb(250,60,60)"/>
<rect x="714.87" y="686.09" width="1.9" height="131.91" fill="rgb(250,60,60)"/>
<rect x="719.61" y="743.05" width="1.9" height="74.95" fill="rgb(250,60,60)"/>
<rect x="345.15" y="815.85" width="1.9" height="2.15" fill="rgb(250,60,60)"/>
<rect x="349.89" y="810.38" width="1.9" height="7.62" fill="rgb(250,60,60)"/>
<rect x="354.63" y="798.73" width="1.9" height="19.27" fill="rgb(250,60,60)"/>
<rect x="359.37" y="810.38" width="1.9" height="7.62" fill="rgb(250,60,60)"/>
<rect x="420.99" y="813.7" width="1.9" height="4.3" fill="rgb(250,60,60)"/>
<rect x="425.73" y="817.46" width="1.9" height="0.54" fill="rgb(250,60,60)"/>
<line x1="188.9" y1="707" x2="861.8" y2="707" stroke="#939393" stroke-width="1.3" stroke-dasharray="2.6 6.928"/>
<line x1="188.9" y1="734.8" x2="861.8" y2="734.8" stroke="#939393" stroke-width="1.3" stroke-dasharray="2.6 6.928"/>
<line x1="188.9" y1="762.7" x2="861.8" y2="762.7" stroke="#939393" stroke-width="1.3" stroke-dasharray="2.6 6.928"/>
<line x1="188.9" y1="790.4" x2="861.8" y2="790.4" stroke="#939393" stroke-width="1.3" stroke-dasharray="2.6 6.928"/>
<rect x="180.1" y="122.8" width="682.7" height="138.2" fill="none" stroke="#1a1a1a" stroke-width="1.5"/>
<rect x="180.2" y="261.9" width="682.6" height="139" fill="none" stroke="#000" stroke-width="2"/>
<rect x="180.2" y="400.9" width="682.6" height="139.1" fill="none" stroke="#000" stroke-width="2"/>
<rect x="180.2" y="540" width="682.6" height="139.1" fill="none" stroke="#000" stroke-width="2"/>
<rect x="180.2" y="679.1" width="682.6" height="138.9" fill="none" stroke="#000" stroke-width="2"/>
<line x1="180.2" y1="543.4" x2="180.2" y2="818" stroke="#939393" stroke-width="1.3" stroke-dasharray="2 5.35"/>
<line x1="293.97" y1="543.4" x2="293.97" y2="818" stroke="#939393" stroke-width="1.3" stroke-dasharray="2 5.35"/>
<line x1="407.74" y1="543.4" x2="407.74" y2="818" stroke="#939393" stroke-width="1.3" stroke-dasharray="2 5.35"/>
<line x1="521.51" y1="543.4" x2="521.51" y2="818" stroke="#939393" stroke-width="1.3" stroke-dasharray="2 5.35"/>
<line x1="635.28" y1="543.4" x2="635.28" y2="818" stroke="#939393" stroke-width="1.3" stroke-dasharray="2 5.35"/>
<line x1="749.05" y1="543.4" x2="749.05" y2="818" stroke="#939393" stroke-width="1.3" stroke-dasharray="2 5.35"/>
<line x1="862.82" y1="543.4" x2="862.82" y2="818" stroke="#939393" stroke-width="1.3" stroke-dasharray="2 5.35"/>
<g opacity="0.55">
<line x1="188.9" y1="679.1" x2="861.8" y2="679.1" stroke="#939393" stroke-width="1.3" stroke-dasharray="2.6 6.928"/>
</g>
<line x1="183.4" y1="818" x2="862.8" y2="818" stroke="#fff" stroke-width="2.2" stroke-dasharray="0.8 3.94"/>
<clipPath id="c1"><rect x="0" y="100" width="180" height="162.8"/></clipPath><g clip-path="url(#c1)">
<text x="135.2" y="149.9" font-family="Liberation Sans" font-size="13.6" fill="#000" textLength="34.8" lengthAdjust="spacingAndGlyphs">1016</text>
<line x1="175" y1="145" x2="180.2" y2="145" stroke="#000" stroke-width="1"/>
<text x="135.2" y="187.9" font-family="Liberation Sans" font-size="13.6" fill="#000" textLength="34.8" lengthAdjust="spacingAndGlyphs">1012</text>
<line x1="175" y1="183" x2="180.2" y2="183" stroke="#000" stroke-width="1"/>
<text x="135.2" y="225.9" font-family="Liberation Sans" font-size="13.6" fill="#000" textLength="34.8" lengthAdjust="spacingAndGlyphs">1008</text>
<line x1="175" y1="221" x2="180.2" y2="221" stroke="#000" stroke-width="1"/>
<text x="135.2" y="264.2" font-family="Liberation Sans" font-size="13.6" fill="#000" textLength="34.8" lengthAdjust="spacingAndGlyphs">1004</text>
<line x1="175" y1="259.3" x2="180.2" y2="259.3" stroke="#000" stroke-width="1"/>
</g>
<text x="161.3" y="291.8" font-family="Liberation Sans" font-size="13.6" fill="#000" textLength="8.7" lengthAdjust="spacingAndGlyphs" stroke="#000" stroke-width="0.4">9</text>
<line x1="175" y1="286.9" x2="180.2" y2="286.9" stroke="#000" stroke-width="1.4"/>
<text x="161.3" y="327.2" font-family="Liberation Sans" font-size="13.6" fill="#000" textLength="8.7" lengthAdjust="spacingAndGlyphs" stroke="#000" stroke-width="0.4">6</text>
<line x1="175" y1="322.3" x2="180.2" y2="322.3" stroke="#000" stroke-width="1.4"/>
<text x="161.3" y="362.6" font-family="Liberation Sans" font-size="13.6" fill="#000" textLength="8.7" lengthAdjust="spacingAndGlyphs" stroke="#000" stroke-width="0.4">3</text>
<line x1="175" y1="357.7" x2="180.2" y2="357.7" stroke="#000" stroke-width="1.4"/>
<text x="161.3" y="398.1" font-family="Liberation Sans" font-size="13.6" fill="#000" textLength="8.7" lengthAdjust="spacingAndGlyphs" stroke="#000" stroke-width="0.4">0</text>
<line x1="175" y1="393.2" x2="180.2" y2="393.2" stroke="#000" stroke-width="1.4"/>
<text x="161.3" y="535.8" font-family="Liberation Sans" font-size="13.6" fill="#000" textLength="8.7" lengthAdjust="spacingAndGlyphs" stroke="#000" stroke-width="0.4">3</text>
<line x1="175" y1="530.9" x2="180.2" y2="530.9" stroke="#000" stroke-width="1.4"/>
<text x="161.3" y="524.88" font-family="Liberation Sans" font-size="13.6" fill="#000" textLength="8.7" lengthAdjust="spacingAndGlyphs" stroke="#000" stroke-width="0.4">6</text>
<line x1="175" y1="519.98" x2="180.2" y2="519.98" stroke="#000" stroke-width="1.4"/>
<text x="161.3" y="513.96" font-family="Liberation Sans" font-size="13.6" fill="#000" textLength="8.7" lengthAdjust="spacingAndGlyphs" stroke="#000" stroke-width="0.4">9</text>
<line x1="175" y1="509.06" x2="180.2" y2="509.06" stroke="#000" stroke-width="1.4"/>
<text x="152.6" y="503.04" font-family="Liberation Sans" font-size="13.6" fill="#000" textLength="17.4" lengthAdjust="spacingAndGlyphs" stroke="#000" stroke-width="0.4">12</text>
<line x1="175" y1="498.14" x2="180.2" y2="498.14" stroke="#000" stroke-width="1.4"/>
<text x="152.6" y="492.12" font-family="Liberation Sans" font-size="13.6" fill="#000" textLength="17.4" lengthAdjust="spacingAndGlyphs" stroke="#000" stroke-width="0.4">15</text>
<line x1="175" y1="487.22" x2="180.2" y2="487.22" stroke="#000" stroke-width="1.4"/>
<text x="152.6" y="481.2" font-family="Liberation Sans" font-size="13.6" fill="#000" textLength="17.4" lengthAdjust="spacingAndGlyphs" stroke="#000" stroke-width="0.4">18</text>
<line x1="175" y1="476.3" x2="180.2" y2="476.3" stroke="#000" stroke-width="1.4"/>
<text x="152.6" y="470.28" font-family="Liberation Sans" font-size="13.6" fill="#000" textLength="17.4" lengthAdjust="spacingAndGlyphs" stroke="#000" stroke-width="0.4">21</text>
<line x1="175" y1="465.38" x2="180.2" y2="465.38" stroke="#000" stroke-width="1.4"/>
<text x="152.6" y="459.36" font-family="Liberation Sans" font-size="13.6" fill="#000" textLength="17.4" lengthAdjust="spacingAndGlyphs" stroke="#000" stroke-width="0.4">24</text>
<line x1="175" y1="454.46" x2="180.2" y2="454.46" stroke="#000" stroke-width="1.4"/>
<text x="152.6" y="448.44" font-family="Liberation Sans" font-size="13.6" fill="#000" textLength="17.4" lengthAdjust="spacingAndGlyphs" stroke="#000" stroke-width="0.4">27</text>
<line x1="175" y1="443.54" x2="180.2" y2="443.54" stroke="#000" stroke-width="1.4"/>
<text x="152.6" y="437.52" font-family="Liberation Sans" font-size="13.6" fill="#000" textLength="17.4" lengthAdjust="spacingAndGlyphs" stroke="#000" stroke-width="0.4">30</text>
<line x1="175" y1="432.62" x2="180.2" y2="432.62" stroke="#000" stroke-width="1.4"/>
<text x="152.6" y="426.6" font-family="Liberation Sans" font-size="13.6" fill="#000" textLength="17.4" lengthAdjust="spacingAndGlyphs" stroke="#000" stroke-width="0.4">33</text>
<line x1="175" y1="421.7" x2="180.2" y2="421.7" stroke="#000" stroke-width="1.4"/>
<text x="152.6" y="415.68" font-family="Liberation Sans" font-size="13.6" fill="#000" textLength="17.4" lengthAdjust="spacingAndGlyphs" stroke="#000" stroke-width="0.4">36</text>
<line x1="175" y1="410.78" x2="180.2" y2="410.78" stroke="#000" stroke-width="1.4"/>
<text x="143.9" y="556.6" font-family="Liberation Sans" font-size="13.6" fill="#000" textLength="26.1" lengthAdjust="spacingAndGlyphs" stroke="#000" stroke-width="0.4">100</text>
<line x1="175" y1="551.7" x2="180.2" y2="551.7" stroke="#000" stroke-width="1.4"/>
<text x="152.6" y="585.5" font-family="Liberation Sans" font-size="13.6" fill="#000" textLength="17.4" lengthAdjust="spacingAndGlyphs" stroke="#000" stroke-width="0.4">75</text>
<line x1="175" y1="580.6" x2="180.2" y2="580.6" stroke="#000" stroke-width="1.4"/>
<text x="152.6" y="614.4" font-family="Liberation Sans" font-size="13.6" fill="#000" textLength="17.4" lengthAdjust="spacingAndGlyphs" stroke="#000" stroke-width="0.4">50</text>
<line x1="175" y1="609.5" x2="180.2" y2="609.5" stroke="#000" stroke-width="1.4"/>
<text x="152.6" y="643.3" font-family="Liberation Sans" font-size="13.6" fill="#000" textLength="17.4" lengthAdjust="spacingAndGlyphs" stroke="#000" stroke-width="0.4">25</text>
<line x1="175" y1="638.4" x2="180.2" y2="638.4" stroke="#000" stroke-width="1.4"/>
<text x="161.3" y="672.4" font-family="Liberation Sans" font-size="13.6" fill="#000" textLength="8.7" lengthAdjust="spacingAndGlyphs" stroke="#000" stroke-width="0.4">0</text>
<line x1="175" y1="667.5" x2="180.2" y2="667.5" stroke="#000" stroke-width="1.4"/>
<text x="140.5" y="684" font-family="Liberation Sans" font-size="13.6" fill="#000" textLength="29.5" lengthAdjust="spacingAndGlyphs" stroke="#000" stroke-width="0.4">1.55</text>
<line x1="175" y1="679.1" x2="180.2" y2="679.1" stroke="#000" stroke-width="1.4"/>
<text x="140.5" y="711.9" font-family="Liberation Sans" font-size="13.6" fill="#000" textLength="29.5" lengthAdjust="spacingAndGlyphs" stroke="#000" stroke-width="0.4">1.24</text>
<line x1="175" y1="707" x2="180.2" y2="707" stroke="#000" stroke-width="1.4"/>
<text x="140.5" y="739.7" font-family="Liberation Sans" font-size="13.6" fill="#000" textLength="29.5" lengthAdjust="spacingAndGlyphs" stroke="#000" stroke-width="0.4">0.93</text>
<line x1="175" y1="734.8" x2="180.2" y2="734.8" stroke="#000" stroke-width="1.4"/>
<text x="140.5" y="767.6" font-family="Liberation Sans" font-size="13.6" fill="#000" textLength="29.5" lengthAdjust="spacingAndGlyphs" stroke="#000" stroke-width="0.4">0.62</text>
<line x1="175" y1="762.7" x2="180.2" y2="762.7" stroke="#000" stroke-width="1.4"/>
<text x="140.5" y="795.3" font-family="Liberation Sans" font-size="13.6" fill="#000" textLength="29.5" lengthAdjust="spacingAndGlyphs" stroke="#000" stroke-width="0.4">0.31</text>
<line x1="175" y1="790.4" x2="180.2" y2="790.4" stroke="#000" stroke-width="1.4"/>
<text x="161.3" y="822.9" font-family="Liberation Sans" font-size="13.6" fill="#000" textLength="8.7" lengthAdjust="spacingAndGlyphs" stroke="#000" stroke-width="0.4">0</text>
<line x1="175" y1="818" x2="180.2" y2="818" stroke="#000" stroke-width="1.4"/>
</svg></body></html>
